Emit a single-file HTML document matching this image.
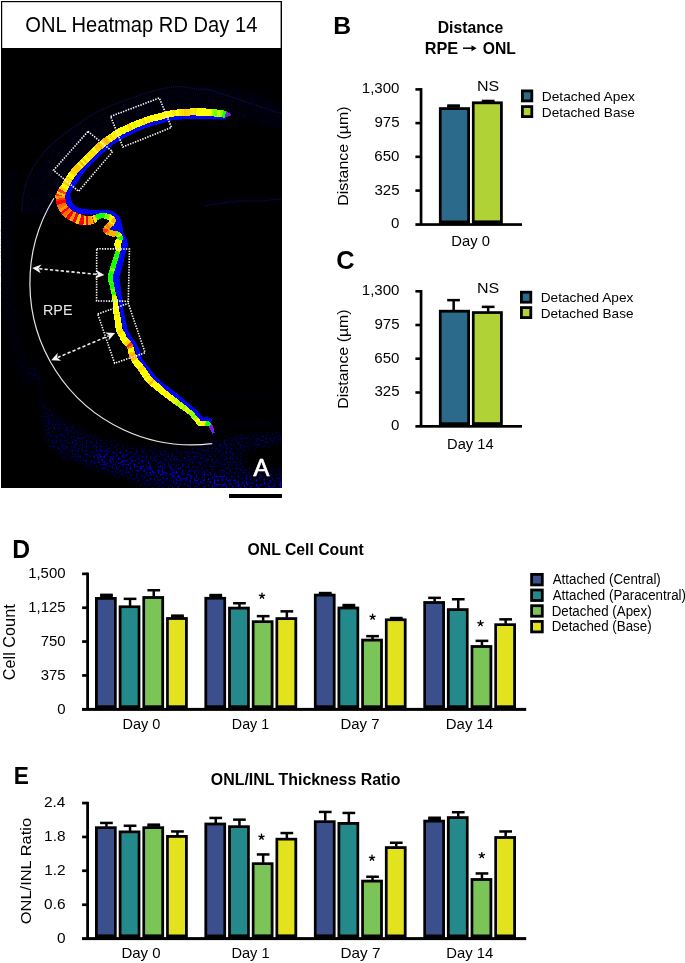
<!DOCTYPE html>
<html><head><meta charset="utf-8"><style>
html,body{margin:0;padding:0;background:#fff;width:685px;height:963px;overflow:hidden}
svg{display:block;font-family:"Liberation Sans",sans-serif;will-change:transform}
</style></head><body>
<svg width="685" height="963" viewBox="0 0 685 963">
<defs>
<filter id="speck" x="0" y="0" width="282" height="488" filterUnits="userSpaceOnUse" color-interpolation-filters="sRGB">
  <feTurbulence type="fractalNoise" baseFrequency="0.5" numOctaves="2" seed="5"/>
  <feColorMatrix type="matrix" values="0 0 0 0 0  0 0 0 0 0  2.6 0 0 0 -0.35  0 0 0 8 -3.9"/>
</filter>
<filter id="speck2" x="0" y="0" width="282" height="488" filterUnits="userSpaceOnUse" color-interpolation-filters="sRGB">
  <feTurbulence type="fractalNoise" baseFrequency="0.7" numOctaves="1" seed="11"/>
  <feColorMatrix type="matrix" values="0 0 0 0 0  0 0 0 0 0  1.0 0 0 0 -0.1  0 0 0 9 -4.4"/>
</filter>
<filter id="soft" x="-20%" y="-20%" width="140%" height="140%"><feGaussianBlur stdDeviation="3"/></filter>
<filter id="soft2" x="-20%" y="-20%" width="140%" height="140%"><feGaussianBlur stdDeviation="2"/></filter>
<mask id="tm" maskUnits="userSpaceOnUse" x="0" y="0" width="282" height="488">
  <g filter="url(#soft)">
  <path d="M25,368 L37,385 L47,405 L60,420 L82,432 L105,442 L131,447 L160,450 L190,450 L212,441 L240,436 L290,432 L290,500 L160,500 L136,483 L103,471 L66,458 L47,446 L44,420 L41,395 L38,368 Z" fill="#7a7a7a"/>
  <path d="M94,457 C120,461 150,469 180,476 S230,484 290,486" stroke="#fff" stroke-width="9" fill="none"/>
  <path d="M240,448 L290,440 L290,472 L245,470 Z" fill="#000"/>
  </g>
</mask>
<mask id="tm2" maskUnits="userSpaceOnUse" x="0" y="0" width="282" height="488">
  <g filter="url(#soft2)">
  <path d="M22,215 L25,195 L32,175 L50,150 L80,125 L120,105 L165,90 L200,86 L240,88 L262,95 L282,105 L282,130 L235,118 L229,112 L192,108.6 L160,113 L130,123.5 L110,134 L95,146 L85,156 L75,166 L66,178 L60,190 L55,200 L50,215 Z" fill="#5a5a5a"/>
  <path d="M12,170 C2,250 6,330 28,385" stroke="#444" stroke-width="13" fill="none"/>
  <path d="M200,203 C230,200 260,198 282,199" stroke="#888" stroke-width="3" fill="none"/>
  
  <path d="M170,442 C200,430 240,425 282,420" stroke="#666" stroke-width="4" fill="none"/>
  <path d="M200,395 C230,398 260,398 282,392" stroke="#555" stroke-width="3" fill="none"/>
  </g>
</mask>
</defs>
<rect x="1" y="1" width="281" height="487" fill="#000"/>
<rect x="2.2" y="2.2" width="278.4" height="45.8" fill="#fff"/>
<text transform="translate(25.29,32.00) scale(0.9462,1)" font-size="21.29" fill="#000">ONL Heatmap RD Day 14</text>
<rect x="1" y="48" width="281" height="440" fill="#fff" filter="url(#speck)" mask="url(#tm)"/>
<rect x="1" y="48" width="281" height="440" fill="#fff" filter="url(#speck2)" mask="url(#tm2)"/>
<path d="M22,212 C22,200 24,190 26,184 C29,176 31,170 34,166 C40,158 45,150 50,146 C58,139 64,134 70,130 C80,123 88,117 95,113 C105,108 114,104 124,101 C135,97 148,92 161,89 C170,87 178,86 185,87 C192,88 198,90 204,89 C212,89 216,92 222,94 C232,97 238,99 246,102 C256,105 264,108 282,114" fill="none" stroke="#101070" stroke-width="1.3" stroke-dasharray="1.2 0.9" opacity="0.75"/>
<path d="M205,206 C220,203 240,200 255,201 C265,201 275,199 282,199" fill="none" stroke="#101070" stroke-width="1.2" stroke-dasharray="1.2 0.9" opacity="0.7"/>
<polygon points="226.0,119.0 225.4,119.1 224.6,119.1 223.5,119.2 222.4,119.3 221.2,119.4 220.0,119.4 219.1,119.4 218.2,119.4 217.3,119.4 216.3,119.3 215.3,119.3 214.3,119.3 213.1,119.2 211.9,119.2 211.1,119.2 210.1,119.1 209.1,119.1 208.1,119.1 207.0,119.0 205.9,119.0 204.9,119.0 203.8,118.9 202.8,118.9 201.8,118.9 200.8,118.8 199.9,118.8 198.8,118.8 197.9,118.7 197.1,118.7 196.4,118.7 195.6,118.6 194.8,118.6 193.6,118.7 192.1,118.7 191.3,118.8 190.5,118.8 189.7,118.9 188.7,118.9 187.8,119.0 186.7,119.0 185.7,119.1 184.6,119.1 183.5,119.2 182.4,119.3 181.3,119.4 180.2,119.4 179.1,119.5 178.0,119.6 176.9,119.7 175.9,119.8 174.9,119.9 174.0,120.0 173.1,120.1 172.3,120.2 171.0,120.4 169.8,120.7 168.7,121.0 167.7,121.2 166.7,121.5 165.7,121.8 164.7,122.1 163.8,122.5 162.9,122.8 162.0,123.1 161.0,123.4 160.1,123.6 159.0,123.9 157.9,124.2 156.9,124.4 156.0,124.7 155.1,124.9 154.1,125.1 153.2,125.4 152.3,125.6 151.4,125.9 150.5,126.2 149.6,126.5 148.6,126.9 147.6,127.2 146.6,127.6 145.7,128.0 144.7,128.4 143.7,128.8 142.7,129.2 141.7,129.6 140.7,130.0 139.8,130.4 138.9,130.8 138.0,131.2 137.0,131.6 136.1,132.0 135.2,132.5 134.3,132.9 133.4,133.3 132.5,133.7 131.6,134.2 130.7,134.6 129.7,135.1 128.7,135.6 127.7,136.0 126.8,136.5 125.9,137.0 124.9,137.4 124.0,137.9 123.0,138.4 122.1,139.0 121.1,139.5 120.3,140.0 119.4,140.6 118.4,141.2 117.5,141.7 116.5,142.3 115.6,143.0 114.7,143.6 113.8,144.2 112.9,144.8 112.1,145.3 111.3,145.9 110.5,146.5 109.7,147.1 109.0,147.7 108.3,148.2 107.6,148.8 106.9,149.4 106.2,150.0 105.4,150.7 104.5,151.5 103.9,152.1 103.3,152.7 102.6,153.4 101.9,154.1 101.1,154.8 100.4,155.5 99.7,156.2 98.9,157.0 98.1,157.7 97.4,158.5 96.6,159.3 95.8,160.0 95.1,160.8 94.4,161.5 93.7,162.2 92.9,162.9 92.2,163.7 91.5,164.4 90.7,165.1 90.0,165.8 89.3,166.5 88.6,167.2 87.9,167.9 87.2,168.6 86.6,169.3 85.9,170.0 85.3,170.7 84.8,171.4 84.1,172.2 83.5,173.0 82.9,173.9 82.3,174.8 81.7,175.6 81.1,176.5 80.5,177.4 80.0,178.2 79.5,179.1 79.0,179.8 78.5,180.6 78.0,181.3 77.3,182.4 76.7,183.3 76.2,184.1 75.7,184.8 75.2,185.5 74.7,186.4 74.1,187.2 73.5,188.1 72.8,189.0 72.2,189.9 71.6,190.8 71.1,191.6 70.7,192.3 70.5,192.8 70.2,193.7 70.1,194.4 70.2,195.0 70.3,195.8 70.6,197.0 70.7,197.9 70.9,198.9 71.2,199.8 71.4,200.8 71.7,201.7 72.1,202.5 72.5,203.2 72.9,203.8 73.4,204.4 74.0,204.9 74.7,205.5 75.4,206.0 76.1,206.5 76.9,207.0 77.8,207.4 78.8,207.8 79.8,208.1 80.5,208.3 81.3,208.5 82.2,208.7 83.1,208.9 84.1,209.1 85.2,209.2 86.3,209.3 87.3,209.4 88.4,209.5 89.5,209.6 90.5,209.7 91.4,209.8 92.3,209.9 93.1,210.0 94.4,210.0 95.4,210.0 96.3,210.0 97.1,209.9 98.0,209.8 98.9,209.8 100.0,209.8 101.0,209.8 102.1,209.8 103.1,209.8 104.2,209.8 105.3,209.8 106.4,209.9 107.5,210.1 108.6,210.3 109.8,210.6 111.0,210.9 112.1,211.3 113.2,211.8 114.3,212.4 115.5,213.1 116.6,214.0 117.6,214.9 118.5,216.0 119.4,217.1 120.1,218.4 120.6,219.7 121.1,221.0 121.4,222.2 121.7,223.4 122.0,224.6 122.2,225.7 122.3,226.7 122.5,227.5 122.6,228.2 122.7,229.0 122.8,229.9 123.0,230.9 123.3,231.9 123.6,233.1 124.0,233.9 124.5,234.9 125.1,235.9 125.7,236.9 126.2,238.1 126.7,239.3 127.0,240.5 127.3,241.7 127.5,242.9 127.6,244.1 127.6,245.2 127.6,246.4 127.2,247.9 126.7,249.0 126.3,249.7 125.9,250.9 125.8,251.5 125.6,252.3 125.4,253.2 125.2,254.2 125.0,255.3 124.7,256.4 124.5,257.5 124.2,258.6 124.0,259.7 123.8,260.8 123.5,261.8 123.2,262.9 123.0,263.9 122.7,265.0 122.4,266.1 122.1,267.1 121.9,268.1 121.6,269.1 121.4,270.0 121.2,270.9 120.8,272.1 120.5,273.2 120.1,274.2 119.9,275.0 119.7,275.7 119.5,276.4 119.4,277.2 119.4,277.9 119.5,278.7 119.5,279.5 119.6,280.4 119.8,281.3 120.0,282.3 120.2,283.3 120.3,284.4 120.4,285.3 120.5,286.3 120.6,287.3 120.7,288.4 120.8,289.4 121.0,290.5 121.1,291.6 121.2,292.6 121.4,293.6 121.4,294.5 121.7,295.7 121.9,296.7 122.1,297.7 122.3,298.6 122.5,299.6 122.6,300.6 122.8,301.7 122.9,302.7 123.0,303.7 123.1,304.7 123.2,305.7 123.2,306.6 123.3,307.6 123.4,308.7 123.5,309.7 123.7,310.6 123.8,311.5 124.0,312.5 124.2,313.5 124.4,314.5 124.6,315.5 124.8,316.6 125.0,317.6 125.3,318.6 125.5,319.6 125.7,320.6 125.9,321.7 126.1,322.8 126.3,323.9 126.5,324.9 126.7,325.9 126.9,326.9 127.1,327.8 127.3,328.6 127.5,329.3 127.9,330.4 128.3,331.3 128.8,332.1 129.3,333.0 129.9,334.0 130.5,335.0 131.1,336.0 131.6,337.0 132.2,337.9 132.7,338.9 133.3,339.6 133.9,340.3 134.5,341.1 135.2,342.0 136.0,343.0 136.6,344.0 137.2,345.0 137.7,346.0 138.1,347.1 138.5,348.1 139.0,349.2 139.4,350.3 139.8,351.3 140.1,352.4 140.5,353.4 140.7,354.3 141.0,355.3 141.3,356.2 141.6,357.1 142.0,358.0 142.5,359.0 143.0,359.7 143.4,360.4 144.0,361.2 144.5,362.0 145.2,362.8 145.8,363.6 146.5,364.5 147.2,365.3 147.9,366.2 148.5,367.1 149.2,367.9 149.9,368.8 150.5,369.6 151.2,370.5 151.8,371.4 152.5,372.2 153.1,373.1 153.7,373.9 154.4,374.8 155.0,375.6 155.6,376.4 156.3,377.1 156.9,377.8 157.6,378.5 158.3,379.2 158.9,379.8 159.6,380.4 160.3,381.0 161.0,381.6 161.8,382.1 162.6,382.7 163.3,383.3 164.2,383.9 165.0,384.5 165.9,385.2 166.8,385.9 167.6,386.5 168.4,387.1 169.2,387.8 170.1,388.4 170.9,389.1 171.8,389.8 172.7,390.5 173.6,391.2 174.5,391.9 175.4,392.6 176.2,393.2 177.1,393.8 177.8,394.4 178.5,395.0 179.2,395.5 180.3,396.4 181.2,397.2 181.9,397.8 182.6,398.3 183.3,399.0 184.1,399.7 185.2,400.6 185.8,401.2 186.5,401.7 187.2,402.3 188.0,403.0 188.8,403.7 189.6,404.4 190.5,405.1 191.4,405.8 192.2,406.6 193.1,407.3 193.9,408.0 194.7,408.7 195.4,409.4 196.2,410.0 196.8,410.6 197.8,411.6 198.8,412.7 199.6,413.6 200.3,414.6 201.0,415.4 201.6,416.1 202.2,416.7 202.7,417.2 203.0,417.5 203.7,417.7 204.1,417.7 204.8,417.6 205.9,417.4 207.3,417.4 208.8,417.9 210.2,418.4 211.3,419.0 212.1,419.3 210.9,422.7 210.1,422.5 208.9,422.2 207.7,422.0 206.7,421.8 206.2,421.8 205.4,421.8 204.1,421.9 202.5,421.7 201.0,420.9 200.1,420.2 199.3,419.5 198.6,418.7 198.0,417.8 197.3,417.0 196.6,416.1 195.9,415.2 195.1,414.3 194.2,413.4 193.6,412.8 192.9,412.2 192.2,411.5 191.4,410.8 190.6,410.1 189.8,409.4 188.9,408.6 188.1,407.9 187.3,407.2 186.4,406.5 185.6,405.8 184.9,405.1 184.1,404.5 183.4,403.9 182.8,403.4 181.7,402.4 180.9,401.7 180.2,401.1 179.5,400.6 178.8,400.1 178.0,399.4 176.8,398.5 176.2,398.0 175.5,397.5 174.7,396.9 173.9,396.3 173.1,395.6 172.2,395.0 171.3,394.3 170.4,393.6 169.5,392.9 168.6,392.3 167.7,391.6 166.8,390.9 165.9,390.3 165.1,389.7 164.4,389.1 163.5,388.4 162.6,387.8 161.8,387.2 161.0,386.6 160.1,386.0 159.3,385.4 158.5,384.8 157.7,384.2 157.0,383.6 156.2,382.9 155.4,382.2 154.6,381.5 153.9,380.7 153.1,379.8 152.4,379.0 151.7,378.1 151.1,377.3 150.4,376.4 149.8,375.5 149.2,374.6 148.5,373.7 147.9,372.9 147.3,372.0 146.7,371.2 146.1,370.4 145.4,369.6 144.7,368.7 144.0,367.8 143.4,367.0 142.7,366.1 142.0,365.2 141.3,364.4 140.7,363.5 140.1,362.7 139.6,361.8 139.1,361.0 138.4,359.7 137.9,358.6 137.5,357.4 137.2,356.3 137.0,355.3 136.7,354.4 136.5,353.5 136.2,352.7 135.8,351.6 135.4,350.6 135.0,349.5 134.6,348.5 134.2,347.6 133.8,346.7 133.4,346.0 132.8,345.2 132.2,344.4 131.6,343.6 130.9,342.9 130.1,342.0 129.5,341.1 128.8,340.1 128.1,339.0 127.6,338.0 127.0,337.0 126.5,336.0 125.9,335.2 125.3,334.4 124.6,333.4 123.9,332.2 123.3,330.7 123.1,329.8 122.8,328.8 122.6,327.8 122.4,326.8 122.2,325.7 122.0,324.6 121.9,323.5 121.7,322.4 121.5,321.4 121.3,320.4 121.2,319.4 121.0,318.4 120.8,317.3 120.6,316.3 120.4,315.2 120.3,314.2 120.1,313.2 119.9,312.2 119.8,311.2 119.7,310.3 119.5,309.1 119.4,308.0 119.3,307.0 119.2,306.0 119.1,305.0 119.0,304.1 118.9,303.2 118.8,302.3 118.6,301.3 118.4,300.4 118.2,299.5 118.0,298.6 117.7,297.7 117.4,296.6 117.2,295.5 116.8,294.6 116.5,293.7 116.2,292.7 115.8,291.7 115.5,290.7 115.1,289.6 114.8,288.6 114.5,287.5 114.1,286.5 113.9,285.6 113.7,284.5 113.5,283.4 113.3,282.3 113.2,281.3 113.0,280.2 112.9,279.1 112.9,277.9 113.0,276.8 113.1,275.5 113.3,274.3 113.6,273.2 113.9,272.2 114.2,271.2 114.5,270.2 114.8,269.1 115.1,268.2 115.4,267.3 115.7,266.3 116.0,265.3 116.3,264.3 116.6,263.3 116.9,262.2 117.3,261.2 117.6,260.2 117.8,259.2 118.1,258.2 118.4,257.2 118.7,256.1 118.9,255.0 119.2,254.0 119.5,252.9 119.7,251.9 120.0,250.9 120.2,250.0 120.5,249.1 121.0,247.5 121.6,246.5 121.7,246.1 121.8,245.6 121.9,245.0 122.0,244.2 122.0,243.3 121.9,242.4 121.8,241.5 121.7,240.7 121.5,239.9 121.2,239.0 120.8,238.0 120.3,237.0 119.9,235.9 119.4,234.9 118.8,233.9 118.2,233.0 117.5,232.0 116.9,231.0 116.4,229.8 116.1,228.5 116.0,227.3 116.0,226.3 116.0,225.5 115.9,224.6 115.7,223.6 115.5,222.5 115.2,221.5 115.0,220.6 114.6,219.9 114.2,219.2 113.7,218.5 113.1,217.8 112.4,217.2 111.7,216.6 111.0,216.2 110.2,215.8 109.4,215.4 108.5,215.1 107.5,214.8 106.5,214.5 105.7,214.3 104.8,214.2 103.9,214.1 103.0,214.0 102.0,213.9 101.0,213.8 100.0,213.8 99.2,213.9 98.4,214.0 97.6,214.1 96.7,214.2 95.6,214.4 94.4,214.4 92.9,214.4 92.1,214.5 91.2,214.5 90.3,214.5 89.2,214.4 88.1,214.4 87.0,214.4 85.9,214.4 84.7,214.3 83.6,214.3 82.4,214.2 81.3,214.0 80.2,213.9 79.2,213.7 78.2,213.5 76.8,213.0 75.5,212.5 74.3,211.9 73.2,211.2 72.2,210.5 71.2,209.7 70.3,208.9 69.5,208.1 68.7,207.2 67.9,206.0 67.2,204.8 66.7,203.5 66.3,202.3 66.0,201.1 65.8,199.9 65.6,198.9 65.4,198.0 65.2,196.7 65.1,195.4 65.1,194.0 65.3,192.6 65.7,191.2 66.2,190.1 66.8,189.0 67.4,188.0 68.1,187.0 68.8,186.1 69.4,185.2 70.0,184.3 70.5,183.6 71.2,182.7 71.8,181.9 72.3,181.3 72.9,180.6 73.6,179.8 74.4,178.7 74.8,178.1 75.3,177.4 75.8,176.6 76.3,175.8 76.8,175.0 77.4,174.1 78.0,173.2 78.7,172.3 79.3,171.4 80.0,170.4 80.7,169.5 81.4,168.6 82.1,167.9 82.8,167.1 83.4,166.4 84.1,165.7 84.8,164.9 85.6,164.2 86.3,163.5 87.0,162.8 87.8,162.1 88.5,161.3 89.2,160.6 90.0,159.9 90.7,159.2 91.4,158.5 92.1,157.8 92.9,157.1 93.6,156.3 94.4,155.5 95.2,154.8 95.9,154.0 96.7,153.2 97.5,152.5 98.2,151.8 98.9,151.0 99.7,150.3 100.4,149.7 101.0,149.1 101.7,148.5 102.6,147.6 103.4,146.9 104.2,146.2 104.9,145.6 105.6,145.0 106.4,144.4 107.1,143.8 108.0,143.2 108.9,142.5 109.7,141.9 110.5,141.3 111.4,140.7 112.4,140.1 113.3,139.4 114.3,138.8 115.2,138.2 116.2,137.6 117.2,137.0 118.1,136.4 119.1,135.9 120.1,135.3 121.1,134.8 122.1,134.3 123.1,133.8 124.0,133.3 125.0,132.8 126.0,132.4 127.0,131.9 127.9,131.5 128.9,131.0 129.8,130.6 130.8,130.1 131.7,129.7 132.6,129.3 133.5,128.8 134.5,128.4 135.4,128.0 136.3,127.6 137.3,127.2 138.2,126.8 139.1,126.4 140.1,125.9 141.1,125.5 142.2,125.1 143.2,124.7 144.2,124.3 145.2,123.9 146.2,123.5 147.2,123.1 148.3,122.7 149.3,122.4 150.3,122.1 151.3,121.8 152.2,121.6 153.2,121.3 154.1,121.1 155.1,120.9 156.1,120.7 157.0,120.5 158.1,120.2 159.1,120.0 160.0,119.7 160.9,119.5 161.8,119.2 162.7,118.9 163.6,118.6 164.6,118.3 165.7,118.0 166.7,117.8 167.9,117.5 169.1,117.2 170.4,117.0 171.7,116.8 172.6,116.6 173.5,116.5 174.5,116.4 175.5,116.3 176.6,116.2 177.7,116.1 178.8,116.0 179.9,115.9 181.0,115.9 182.2,115.8 183.3,115.7 184.4,115.6 185.5,115.6 186.5,115.5 187.6,115.5 188.6,115.4 189.5,115.4 190.4,115.3 191.2,115.3 191.9,115.3 193.5,115.2 194.7,115.2 195.8,115.2 196.6,115.3 197.4,115.4 198.1,115.5 199.0,115.5 200.1,115.6 200.9,115.6 201.9,115.7 202.9,115.7 203.9,115.7 205.0,115.8 206.1,115.8 207.1,115.8 208.2,115.9 209.2,115.9 210.2,115.9 211.2,116.0 212.1,116.0 213.3,116.1 214.4,116.1 215.4,116.2 216.4,116.2 217.4,116.3 218.3,116.3 219.2,116.4 220.0,116.4 221.2,116.5 222.3,116.5 223.5,116.5 224.5,116.5 225.3,116.6 226.0,116.6" fill="#0000f0"/>
<g shape-rendering="crispEdges">
<polygon points="226.0,119.0 226.0,116.6 225.3,116.6 225.4,119.1" fill="#0007fa"/>
<polygon points="225.4,119.1 225.3,116.6 224.5,116.5 224.6,119.1" fill="#0008fd"/>
<polygon points="224.6,119.1 224.5,116.5 223.5,116.5 223.5,119.2" fill="#0006f5"/>
<polygon points="223.5,119.2 223.5,116.5 222.3,116.5 222.4,119.3" fill="#0008fe"/>
<polygon points="222.4,119.3 222.3,116.5 221.2,116.5 221.2,119.4" fill="#0006f6"/>
<polygon points="221.2,119.4 221.2,116.5 220.0,116.4 220.0,119.4" fill="#0007f9"/>
<polygon points="220.0,119.4 220.0,116.4 219.2,116.4 219.1,119.4" fill="#0008fe"/>
<polygon points="219.1,119.4 219.2,116.4 218.3,116.3 218.2,119.4" fill="#0006f7"/>
<polygon points="218.2,119.4 218.3,116.3 217.4,116.3 217.3,119.4" fill="#0008fe"/>
<polygon points="217.3,119.4 217.4,116.3 216.4,116.2 216.3,119.3" fill="#0007f8"/>
<polygon points="216.3,119.3 216.4,116.2 215.4,116.2 215.3,119.3" fill="#0008fe"/>
<polygon points="215.3,119.3 215.4,116.2 214.4,116.1 214.3,119.3" fill="#0008fe"/>
<polygon points="214.3,119.3 214.4,116.1 213.3,116.1 213.1,119.2" fill="#0007f8"/>
<polygon points="213.1,119.2 213.3,116.1 212.1,116.0 211.9,119.2" fill="#0005f2"/>
<polygon points="211.9,119.2 212.1,116.0 211.2,116.0 211.1,119.2" fill="#0008fd"/>
<polygon points="211.1,119.2 211.2,116.0 210.2,115.9 210.1,119.1" fill="#0007fb"/>
<polygon points="210.1,119.1 210.2,115.9 209.2,115.9 209.1,119.1" fill="#0006f5"/>
<polygon points="209.1,119.1 209.2,115.9 208.2,115.9 208.1,119.1" fill="#0005f0"/>
<polygon points="208.1,119.1 208.2,115.9 207.1,115.8 207.0,119.0" fill="#0006f6"/>
<polygon points="207.0,119.0 207.1,115.8 206.1,115.8 205.9,119.0" fill="#0007f9"/>
<polygon points="205.9,119.0 206.1,115.8 205.0,115.8 204.9,119.0" fill="#0005ef"/>
<polygon points="204.9,119.0 205.0,115.8 203.9,115.7 203.8,118.9" fill="#0008fe"/>
<polygon points="203.8,118.9 203.9,115.7 202.9,115.7 202.8,118.9" fill="#0005f1"/>
<polygon points="202.8,118.9 202.9,115.7 201.9,115.7 201.8,118.9" fill="#0007fa"/>
<polygon points="201.8,118.9 201.9,115.7 200.9,115.6 200.8,118.8" fill="#0008fd"/>
<polygon points="200.8,118.8 200.9,115.6 200.1,115.6 199.9,118.8" fill="#0008fd"/>
<polygon points="199.9,118.8 200.1,115.6 199.0,115.5 198.8,118.8" fill="#0007fa"/>
<polygon points="198.8,118.8 199.0,115.5 198.1,115.5 197.9,118.7" fill="#0005f2"/>
<polygon points="197.9,118.7 198.1,115.5 197.4,115.4 197.1,118.7" fill="#0007fc"/>
<polygon points="197.1,118.7 197.4,115.4 196.6,115.3 196.4,118.7" fill="#0006f6"/>
<polygon points="196.4,118.7 196.6,115.3 195.8,115.2 195.6,118.6" fill="#0006f5"/>
<polygon points="195.6,118.6 195.8,115.2 194.7,115.2 194.8,118.6" fill="#0007f9"/>
<polygon points="194.8,118.6 194.7,115.2 193.5,115.2 193.6,118.7" fill="#0006f6"/>
<polygon points="193.6,118.7 193.5,115.2 191.9,115.3 192.1,118.7" fill="#0008fe"/>
<polygon points="192.1,118.7 191.9,115.3 191.2,115.3 191.3,118.8" fill="#0008fe"/>
<polygon points="191.3,118.8 191.2,115.3 190.4,115.3 190.5,118.8" fill="#0007fc"/>
<polygon points="190.5,118.8 190.4,115.3 189.5,115.4 189.7,118.9" fill="#0006f4"/>
<polygon points="189.7,118.9 189.5,115.4 188.6,115.4 188.7,118.9" fill="#0007f8"/>
<polygon points="188.7,118.9 188.6,115.4 187.6,115.5 187.8,119.0" fill="#0007fa"/>
<polygon points="187.8,119.0 187.6,115.5 186.5,115.5 186.7,119.0" fill="#0006f6"/>
<polygon points="186.7,119.0 186.5,115.5 185.5,115.6 185.7,119.1" fill="#0007f8"/>
<polygon points="185.7,119.1 185.5,115.6 184.4,115.6 184.6,119.1" fill="#0007fa"/>
<polygon points="184.6,119.1 184.4,115.6 183.3,115.7 183.5,119.2" fill="#0005f2"/>
<polygon points="183.5,119.2 183.3,115.7 182.2,115.8 182.4,119.3" fill="#0006f4"/>
<polygon points="182.4,119.3 182.2,115.8 181.0,115.9 181.3,119.4" fill="#0007fb"/>
<polygon points="181.3,119.4 181.0,115.9 179.9,115.9 180.2,119.4" fill="#0006f6"/>
<polygon points="180.2,119.4 179.9,115.9 178.8,116.0 179.1,119.5" fill="#0006f7"/>
<polygon points="179.1,119.5 178.8,116.0 177.7,116.1 178.0,119.6" fill="#0005f1"/>
<polygon points="178.0,119.6 177.7,116.1 176.6,116.2 176.9,119.7" fill="#0006f3"/>
<polygon points="176.9,119.7 176.6,116.2 175.5,116.3 175.9,119.8" fill="#0007fa"/>
<polygon points="175.9,119.8 175.5,116.3 174.5,116.4 174.9,119.9" fill="#0005ef"/>
<polygon points="174.9,119.9 174.5,116.4 173.5,116.5 174.0,120.0" fill="#0008fd"/>
<polygon points="174.0,120.0 173.5,116.5 172.6,116.6 173.1,120.1" fill="#0007f8"/>
<polygon points="173.1,120.1 172.6,116.6 171.7,116.8 172.3,120.2" fill="#0006f3"/>
<polygon points="172.3,120.2 171.7,116.8 170.4,117.0 171.0,120.4" fill="#0008fd"/>
<polygon points="171.0,120.4 170.4,117.0 169.1,117.2 169.8,120.7" fill="#0006f7"/>
<polygon points="169.8,120.7 169.1,117.2 167.9,117.5 168.7,121.0" fill="#0008fe"/>
<polygon points="168.7,121.0 167.9,117.5 166.7,117.8 167.7,121.2" fill="#0006f4"/>
<polygon points="167.7,121.2 166.7,117.8 165.7,118.0 166.7,121.5" fill="#0006f3"/>
<polygon points="166.7,121.5 165.7,118.0 164.6,118.3 165.7,121.8" fill="#0006f6"/>
<polygon points="165.7,121.8 164.6,118.3 163.6,118.6 164.7,122.1" fill="#0005f1"/>
<polygon points="164.7,122.1 163.6,118.6 162.7,118.9 163.8,122.5" fill="#0007fa"/>
<polygon points="163.8,122.5 162.7,118.9 161.8,119.2 162.9,122.8" fill="#0006f4"/>
<polygon points="162.9,122.8 161.8,119.2 160.9,119.5 162.0,123.1" fill="#0006f5"/>
<polygon points="162.0,123.1 160.9,119.5 160.0,119.7 161.0,123.4" fill="#0006f6"/>
<polygon points="161.0,123.4 160.0,119.7 159.1,120.0 160.1,123.6" fill="#0007f8"/>
<polygon points="160.1,123.6 159.1,120.0 158.1,120.2 159.0,123.9" fill="#0005f2"/>
<polygon points="159.0,123.9 158.1,120.2 157.0,120.5 157.9,124.2" fill="#0005f0"/>
<polygon points="157.9,124.2 157.0,120.5 156.1,120.7 156.9,124.4" fill="#0006f7"/>
<polygon points="156.9,124.4 156.1,120.7 155.1,120.9 156.0,124.7" fill="#0006f4"/>
<polygon points="156.0,124.7 155.1,120.9 154.1,121.1 155.1,124.9" fill="#0008fe"/>
<polygon points="155.1,124.9 154.1,121.1 153.2,121.3 154.1,125.1" fill="#0006f4"/>
<polygon points="154.1,125.1 153.2,121.3 152.2,121.6 153.2,125.4" fill="#0006f5"/>
<polygon points="153.2,125.4 152.2,121.6 151.3,121.8 152.3,125.6" fill="#0005ef"/>
<polygon points="152.3,125.6 151.3,121.8 150.3,122.1 151.4,125.9" fill="#0005f2"/>
<polygon points="151.4,125.9 150.3,122.1 149.3,122.4 150.5,126.2" fill="#0007fa"/>
<polygon points="150.5,126.2 149.3,122.4 148.3,122.7 149.6,126.5" fill="#0007f9"/>
<polygon points="149.6,126.5 148.3,122.7 147.2,123.1 148.6,126.9" fill="#0006f4"/>
<polygon points="148.6,126.9 147.2,123.1 146.2,123.5 147.6,127.2" fill="#0008ff"/>
<polygon points="147.6,127.2 146.2,123.5 145.2,123.9 146.6,127.6" fill="#0007f8"/>
<polygon points="146.6,127.6 145.2,123.9 144.2,124.3 145.7,128.0" fill="#0007fc"/>
<polygon points="145.7,128.0 144.2,124.3 143.2,124.7 144.7,128.4" fill="#0008fd"/>
<polygon points="144.7,128.4 143.2,124.7 142.2,125.1 143.7,128.8" fill="#0008fe"/>
<polygon points="143.7,128.8 142.2,125.1 141.1,125.5 142.7,129.2" fill="#0006f3"/>
<polygon points="142.7,129.2 141.1,125.5 140.1,125.9 141.7,129.6" fill="#0008fd"/>
<polygon points="141.7,129.6 140.1,125.9 139.1,126.4 140.7,130.0" fill="#0007fb"/>
<polygon points="140.7,130.0 139.1,126.4 138.2,126.8 139.8,130.4" fill="#0007f9"/>
<polygon points="139.8,130.4 138.2,126.8 137.3,127.2 138.9,130.8" fill="#0005f1"/>
<polygon points="138.9,130.8 137.3,127.2 136.3,127.6 138.0,131.2" fill="#0008fe"/>
<polygon points="138.0,131.2 136.3,127.6 135.4,128.0 137.0,131.6" fill="#0007f8"/>
<polygon points="137.0,131.6 135.4,128.0 134.5,128.4 136.1,132.0" fill="#0006f6"/>
<polygon points="136.1,132.0 134.5,128.4 133.5,128.8 135.2,132.5" fill="#0005f1"/>
<polygon points="135.2,132.5 133.5,128.8 132.6,129.3 134.3,132.9" fill="#0005f2"/>
<polygon points="134.3,132.9 132.6,129.3 131.7,129.7 133.4,133.3" fill="#0005f1"/>
<polygon points="133.4,133.3 131.7,129.7 130.8,130.1 132.5,133.7" fill="#0007fb"/>
<polygon points="132.5,133.7 130.8,130.1 129.8,130.6 131.6,134.2" fill="#0007f8"/>
<polygon points="131.6,134.2 129.8,130.6 128.9,131.0 130.7,134.6" fill="#0007f9"/>
<polygon points="130.7,134.6 128.9,131.0 127.9,131.5 129.7,135.1" fill="#0005f1"/>
<polygon points="129.7,135.1 127.9,131.5 127.0,131.9 128.7,135.6" fill="#0005f0"/>
<polygon points="128.7,135.6 127.0,131.9 126.0,132.4 127.7,136.0" fill="#0008fd"/>
<polygon points="127.7,136.0 126.0,132.4 125.0,132.8 126.8,136.5" fill="#0007fc"/>
<polygon points="126.8,136.5 125.0,132.8 124.0,133.3 125.9,137.0" fill="#0007fb"/>
<polygon points="125.9,137.0 124.0,133.3 123.1,133.8 124.9,137.4" fill="#0007fb"/>
<polygon points="124.9,137.4 123.1,133.8 122.1,134.3 124.0,137.9" fill="#0006f7"/>
<polygon points="124.0,137.9 122.1,134.3 121.1,134.8 123.0,138.4" fill="#0006f6"/>
<polygon points="123.0,138.4 121.1,134.8 120.1,135.3 122.1,139.0" fill="#0007fb"/>
<polygon points="122.1,139.0 120.1,135.3 119.1,135.9 121.1,139.5" fill="#0008ff"/>
<polygon points="121.1,139.5 119.1,135.9 118.1,136.4 120.3,140.0" fill="#0007f8"/>
<polygon points="120.3,140.0 118.1,136.4 117.2,137.0 119.4,140.6" fill="#0007f9"/>
<polygon points="119.4,140.6 117.2,137.0 116.2,137.6 118.4,141.2" fill="#0006f6"/>
<polygon points="118.4,141.2 116.2,137.6 115.2,138.2 117.5,141.7" fill="#0005f0"/>
<polygon points="117.5,141.7 115.2,138.2 114.3,138.8 116.5,142.3" fill="#0006f4"/>
<polygon points="116.5,142.3 114.3,138.8 113.3,139.4 115.6,143.0" fill="#0006f7"/>
<polygon points="115.6,143.0 113.3,139.4 112.4,140.1 114.7,143.6" fill="#0006f5"/>
<polygon points="114.7,143.6 112.4,140.1 111.4,140.7 113.8,144.2" fill="#0006f4"/>
<polygon points="113.8,144.2 111.4,140.7 110.5,141.3 112.9,144.8" fill="#0008fe"/>
<polygon points="112.9,144.8 110.5,141.3 109.7,141.9 112.1,145.3" fill="#0005f1"/>
<polygon points="112.1,145.3 109.7,141.9 108.9,142.5 111.3,145.9" fill="#0006f3"/>
<polygon points="111.3,145.9 108.9,142.5 108.0,143.2 110.5,146.5" fill="#0005f1"/>
<polygon points="110.5,146.5 108.0,143.2 107.1,143.8 109.7,147.1" fill="#0005f2"/>
<polygon points="109.7,147.1 107.1,143.8 106.4,144.4 109.0,147.7" fill="#0007f9"/>
<polygon points="109.0,147.7 106.4,144.4 105.6,145.0 108.3,148.2" fill="#0007f9"/>
<polygon points="108.3,148.2 105.6,145.0 104.9,145.6 107.6,148.8" fill="#0008fd"/>
<polygon points="107.6,148.8 104.9,145.6 104.2,146.2 106.9,149.4" fill="#0006f5"/>
<polygon points="106.9,149.4 104.2,146.2 103.4,146.9 106.2,150.0" fill="#0008fe"/>
<polygon points="106.2,150.0 103.4,146.9 102.6,147.6 105.4,150.7" fill="#0008fe"/>
<polygon points="105.4,150.7 102.6,147.6 101.7,148.5 104.5,151.5" fill="#0007fc"/>
<polygon points="104.5,151.5 101.7,148.5 101.0,149.1 103.9,152.1" fill="#0007fc"/>
<polygon points="103.9,152.1 101.0,149.1 100.4,149.7 103.3,152.7" fill="#0007fa"/>
<polygon points="103.3,152.7 100.4,149.7 99.7,150.3 102.6,153.4" fill="#0008fe"/>
<polygon points="102.6,153.4 99.7,150.3 98.9,151.0 101.9,154.1" fill="#0008ff"/>
<polygon points="101.9,154.1 98.9,151.0 98.2,151.8 101.1,154.8" fill="#0008fd"/>
<polygon points="101.1,154.8 98.2,151.8 97.5,152.5 100.4,155.5" fill="#0008fd"/>
<polygon points="100.4,155.5 97.5,152.5 96.7,153.2 99.7,156.2" fill="#0007f9"/>
<polygon points="99.7,156.2 96.7,153.2 95.9,154.0 98.9,157.0" fill="#0008ff"/>
<polygon points="98.9,157.0 95.9,154.0 95.2,154.8 98.1,157.7" fill="#0005f1"/>
<polygon points="98.1,157.7 95.2,154.8 94.4,155.5 97.4,158.5" fill="#0006f5"/>
<polygon points="97.4,158.5 94.4,155.5 93.6,156.3 96.6,159.3" fill="#0008fd"/>
<polygon points="96.6,159.3 93.6,156.3 92.9,157.1 95.8,160.0" fill="#0007fb"/>
<polygon points="95.8,160.0 92.9,157.1 92.1,157.8 95.1,160.8" fill="#0007f9"/>
<polygon points="95.1,160.8 92.1,157.8 91.4,158.5 94.4,161.5" fill="#0007f9"/>
<polygon points="94.4,161.5 91.4,158.5 90.7,159.2 93.7,162.2" fill="#0008fd"/>
<polygon points="93.7,162.2 90.7,159.2 90.0,159.9 92.9,162.9" fill="#0005f1"/>
<polygon points="92.9,162.9 90.0,159.9 89.2,160.6 92.2,163.7" fill="#0005ef"/>
<polygon points="92.2,163.7 89.2,160.6 88.5,161.3 91.5,164.4" fill="#0007f8"/>
<polygon points="91.5,164.4 88.5,161.3 87.8,162.1 90.7,165.1" fill="#0006f7"/>
<polygon points="90.7,165.1 87.8,162.1 87.0,162.8 90.0,165.8" fill="#0008fe"/>
<polygon points="90.0,165.8 87.0,162.8 86.3,163.5 89.3,166.5" fill="#0008fd"/>
<polygon points="89.3,166.5 86.3,163.5 85.6,164.2 88.6,167.2" fill="#0007fa"/>
<polygon points="88.6,167.2 85.6,164.2 84.8,164.9 87.9,167.9" fill="#0007fb"/>
<polygon points="87.9,167.9 84.8,164.9 84.1,165.7 87.2,168.6" fill="#0005f2"/>
<polygon points="87.2,168.6 84.1,165.7 83.4,166.4 86.6,169.3" fill="#0007fc"/>
<polygon points="86.6,169.3 83.4,166.4 82.8,167.1 85.9,170.0" fill="#0008ff"/>
<polygon points="85.9,170.0 82.8,167.1 82.1,167.9 85.3,170.7" fill="#0005f0"/>
<polygon points="85.3,170.7 82.1,167.9 81.4,168.6 84.8,171.4" fill="#0006f7"/>
<polygon points="84.8,171.4 81.4,168.6 80.7,169.5 84.1,172.2" fill="#0008fd"/>
<polygon points="84.1,172.2 80.7,169.5 80.0,170.4 83.5,173.0" fill="#0006f6"/>
<polygon points="83.5,173.0 80.0,170.4 79.3,171.4 82.9,173.9" fill="#0008ff"/>
<polygon points="82.9,173.9 79.3,171.4 78.7,172.3 82.3,174.8" fill="#0006f7"/>
<polygon points="82.3,174.8 78.7,172.3 78.0,173.2 81.7,175.6" fill="#0005ef"/>
<polygon points="81.7,175.6 78.0,173.2 77.4,174.1 81.1,176.5" fill="#0005f1"/>
<polygon points="81.1,176.5 77.4,174.1 76.8,175.0 80.5,177.4" fill="#0006f4"/>
<polygon points="80.5,177.4 76.8,175.0 76.3,175.8 80.0,178.2" fill="#0007fb"/>
<polygon points="80.0,178.2 76.3,175.8 75.8,176.6 79.5,179.1" fill="#0007f9"/>
<polygon points="79.5,179.1 75.8,176.6 75.3,177.4 79.0,179.8" fill="#0007fc"/>
<polygon points="79.0,179.8 75.3,177.4 74.8,178.1 78.5,180.6" fill="#0006f3"/>
<polygon points="78.5,180.6 74.8,178.1 74.4,178.7 78.0,181.3" fill="#0006f6"/>
<polygon points="78.0,181.3 74.4,178.7 73.6,179.8 77.3,182.4" fill="#0006f3"/>
<polygon points="77.3,182.4 73.6,179.8 72.9,180.6 76.7,183.3" fill="#0007fa"/>
<polygon points="76.7,183.3 72.9,180.6 72.3,181.3 76.2,184.1" fill="#0007fb"/>
<polygon points="76.2,184.1 72.3,181.3 71.8,181.9 75.7,184.8" fill="#0005f2"/>
<polygon points="75.7,184.8 71.8,181.9 71.2,182.7 75.2,185.5" fill="#0005ef"/>
<polygon points="75.2,185.5 71.2,182.7 70.5,183.6 74.7,186.4" fill="#0005f1"/>
<polygon points="74.7,186.4 70.5,183.6 70.0,184.3 74.1,187.2" fill="#0005f2"/>
<polygon points="74.1,187.2 70.0,184.3 69.4,185.2 73.5,188.1" fill="#0005f2"/>
<polygon points="73.5,188.1 69.4,185.2 68.8,186.1 72.8,189.0" fill="#0006f3"/>
<polygon points="72.8,189.0 68.8,186.1 68.1,187.0 72.2,189.9" fill="#0007fb"/>
<polygon points="72.2,189.9 68.1,187.0 67.4,188.0 71.6,190.8" fill="#0006f7"/>
<polygon points="71.6,190.8 67.4,188.0 66.8,189.0 71.1,191.6" fill="#0007f9"/>
<polygon points="71.1,191.6 66.8,189.0 66.2,190.1 70.7,192.3" fill="#0008ff"/>
<polygon points="70.7,192.3 66.2,190.1 65.7,191.2 70.5,192.8" fill="#0008ff"/>
<polygon points="70.5,192.8 65.7,191.2 65.3,192.6 70.2,193.7" fill="#0007fb"/>
<polygon points="70.2,193.7 65.3,192.6 65.1,194.0 70.1,194.4" fill="#0007fb"/>
<polygon points="70.1,194.4 65.1,194.0 65.1,195.4 70.2,195.0" fill="#0006f4"/>
<polygon points="70.2,195.0 65.1,195.4 65.2,196.7 70.3,195.8" fill="#0005f0"/>
<polygon points="70.3,195.8 65.2,196.7 65.4,198.0 70.6,197.0" fill="#0007f8"/>
<polygon points="70.6,197.0 65.4,198.0 65.6,198.9 70.7,197.9" fill="#0005f0"/>
<polygon points="70.7,197.9 65.6,198.9 65.8,199.9 70.9,198.9" fill="#0005ef"/>
<polygon points="70.9,198.9 65.8,199.9 66.0,201.1 71.2,199.8" fill="#0005f0"/>
<polygon points="71.2,199.8 66.0,201.1 66.3,202.3 71.4,200.8" fill="#0007f9"/>
<polygon points="71.4,200.8 66.3,202.3 66.7,203.5 71.7,201.7" fill="#0007fb"/>
<polygon points="71.7,201.7 66.7,203.5 67.2,204.8 72.1,202.5" fill="#0007fb"/>
<polygon points="72.1,202.5 67.2,204.8 67.9,206.0 72.5,203.2" fill="#0007fc"/>
<polygon points="72.5,203.2 67.9,206.0 68.7,207.2 72.9,203.8" fill="#0007fc"/>
<polygon points="72.9,203.8 68.7,207.2 69.5,208.1 73.4,204.4" fill="#0006f5"/>
<polygon points="73.4,204.4 69.5,208.1 70.3,208.9 74.0,204.9" fill="#0005f1"/>
<polygon points="74.0,204.9 70.3,208.9 71.2,209.7 74.7,205.5" fill="#0005f2"/>
<polygon points="74.7,205.5 71.2,209.7 72.2,210.5 75.4,206.0" fill="#0006f7"/>
<polygon points="75.4,206.0 72.2,210.5 73.2,211.2 76.1,206.5" fill="#0006f5"/>
<polygon points="76.1,206.5 73.2,211.2 74.3,211.9 76.9,207.0" fill="#0005f2"/>
<polygon points="76.9,207.0 74.3,211.9 75.5,212.5 77.8,207.4" fill="#0008fe"/>
<polygon points="77.8,207.4 75.5,212.5 76.8,213.0 78.8,207.8" fill="#0006f4"/>
<polygon points="78.8,207.8 76.8,213.0 78.2,213.5 79.8,208.1" fill="#0005f0"/>
<polygon points="79.8,208.1 78.2,213.5 79.2,213.7 80.5,208.3" fill="#0005f2"/>
<polygon points="80.5,208.3 79.2,213.7 80.2,213.9 81.3,208.5" fill="#0006f3"/>
<polygon points="81.3,208.5 80.2,213.9 81.3,214.0 82.2,208.7" fill="#0006f7"/>
<polygon points="82.2,208.7 81.3,214.0 82.4,214.2 83.1,208.9" fill="#0007fc"/>
<polygon points="83.1,208.9 82.4,214.2 83.6,214.3 84.1,209.1" fill="#0005f2"/>
<polygon points="84.1,209.1 83.6,214.3 84.7,214.3 85.2,209.2" fill="#0007fa"/>
<polygon points="85.2,209.2 84.7,214.3 85.9,214.4 86.3,209.3" fill="#0005f2"/>
<polygon points="86.3,209.3 85.9,214.4 87.0,214.4 87.3,209.4" fill="#0005ef"/>
<polygon points="87.3,209.4 87.0,214.4 88.1,214.4 88.4,209.5" fill="#0007f9"/>
<polygon points="88.4,209.5 88.1,214.4 89.2,214.4 89.5,209.6" fill="#0007f9"/>
<polygon points="89.5,209.6 89.2,214.4 90.3,214.5 90.5,209.7" fill="#0005f0"/>
<polygon points="90.5,209.7 90.3,214.5 91.2,214.5 91.4,209.8" fill="#0006f3"/>
<polygon points="91.4,209.8 91.2,214.5 92.1,214.5 92.3,209.9" fill="#0007fc"/>
<polygon points="92.3,209.9 92.1,214.5 92.9,214.4 93.1,210.0" fill="#0008fd"/>
<polygon points="93.1,210.0 92.9,214.4 94.4,214.4 94.4,210.0" fill="#0008fd"/>
<polygon points="94.4,210.0 94.4,214.4 95.6,214.4 95.4,210.0" fill="#0005f1"/>
<polygon points="95.4,210.0 95.6,214.4 96.7,214.2 96.3,210.0" fill="#0005f2"/>
<polygon points="96.3,210.0 96.7,214.2 97.6,214.1 97.1,209.9" fill="#0008fd"/>
<polygon points="97.1,209.9 97.6,214.1 98.4,214.0 98.0,209.8" fill="#0005f2"/>
<polygon points="98.0,209.8 98.4,214.0 99.2,213.9 98.9,209.8" fill="#0005ef"/>
<polygon points="98.9,209.8 99.2,213.9 100.0,213.8 100.0,209.8" fill="#0006f4"/>
<polygon points="100.0,209.8 100.0,213.8 101.0,213.8 101.0,209.8" fill="#0007f9"/>
<polygon points="101.0,209.8 101.0,213.8 102.0,213.9 102.1,209.8" fill="#0006f6"/>
<polygon points="102.1,209.8 102.0,213.9 103.0,214.0 103.1,209.8" fill="#0008fd"/>
<polygon points="103.1,209.8 103.0,214.0 103.9,214.1 104.2,209.8" fill="#0008ff"/>
<polygon points="104.2,209.8 103.9,214.1 104.8,214.2 105.3,209.8" fill="#0005ef"/>
<polygon points="105.3,209.8 104.8,214.2 105.7,214.3 106.4,209.9" fill="#0006f5"/>
<polygon points="106.4,209.9 105.7,214.3 106.5,214.5 107.5,210.1" fill="#0006f7"/>
<polygon points="107.5,210.1 106.5,214.5 107.5,214.8 108.6,210.3" fill="#0005f0"/>
<polygon points="108.6,210.3 107.5,214.8 108.5,215.1 109.8,210.6" fill="#0007f8"/>
<polygon points="109.8,210.6 108.5,215.1 109.4,215.4 111.0,210.9" fill="#0005f1"/>
<polygon points="111.0,210.9 109.4,215.4 110.2,215.8 112.1,211.3" fill="#0005f2"/>
<polygon points="112.1,211.3 110.2,215.8 111.0,216.2 113.2,211.8" fill="#0007fc"/>
<polygon points="113.2,211.8 111.0,216.2 111.7,216.6 114.3,212.4" fill="#0007fb"/>
<polygon points="114.3,212.4 111.7,216.6 112.4,217.2 115.5,213.1" fill="#0007fa"/>
<polygon points="115.5,213.1 112.4,217.2 113.1,217.8 116.6,214.0" fill="#0007fb"/>
<polygon points="116.6,214.0 113.1,217.8 113.7,218.5 117.6,214.9" fill="#0006f6"/>
<polygon points="117.6,214.9 113.7,218.5 114.2,219.2 118.5,216.0" fill="#0007fb"/>
<polygon points="118.5,216.0 114.2,219.2 114.6,219.9 119.4,217.1" fill="#0007f8"/>
<polygon points="119.4,217.1 114.6,219.9 115.0,220.6 120.1,218.4" fill="#0008fd"/>
<polygon points="120.1,218.4 115.0,220.6 115.2,221.5 120.6,219.7" fill="#0005f0"/>
<polygon points="120.6,219.7 115.2,221.5 115.5,222.5 121.1,221.0" fill="#0007f9"/>
<polygon points="121.1,221.0 115.5,222.5 115.7,223.6 121.4,222.2" fill="#0007f8"/>
<polygon points="121.4,222.2 115.7,223.6 115.9,224.6 121.7,223.4" fill="#0006f6"/>
<polygon points="121.7,223.4 115.9,224.6 116.0,225.5 122.0,224.6" fill="#0005f1"/>
<polygon points="122.0,224.6 116.0,225.5 116.0,226.3 122.2,225.7" fill="#0007f8"/>
<polygon points="122.2,225.7 116.0,226.3 116.0,227.3 122.3,226.7" fill="#0005f0"/>
<polygon points="122.3,226.7 116.0,227.3 116.1,228.5 122.5,227.5" fill="#0006f7"/>
<polygon points="122.5,227.5 116.1,228.5 116.4,229.8 122.6,228.2" fill="#0006f6"/>
<polygon points="122.6,228.2 116.4,229.8 116.9,231.0 122.7,229.0" fill="#0006f7"/>
<polygon points="122.7,229.0 116.9,231.0 117.5,232.0 122.8,229.9" fill="#0008ff"/>
<polygon points="122.8,229.9 117.5,232.0 118.2,233.0 123.0,230.9" fill="#0007f8"/>
<polygon points="123.0,230.9 118.2,233.0 118.8,233.9 123.3,231.9" fill="#0007fc"/>
<polygon points="123.3,231.9 118.8,233.9 119.4,234.9 123.6,233.1" fill="#0008ff"/>
<polygon points="123.6,233.1 119.4,234.9 119.9,235.9 124.0,233.9" fill="#0005f2"/>
<polygon points="124.0,233.9 119.9,235.9 120.3,237.0 124.5,234.9" fill="#0007fc"/>
<polygon points="124.5,234.9 120.3,237.0 120.8,238.0 125.1,235.9" fill="#0006f7"/>
<polygon points="125.1,235.9 120.8,238.0 121.2,239.0 125.7,236.9" fill="#0006f3"/>
<polygon points="125.7,236.9 121.2,239.0 121.5,239.9 126.2,238.1" fill="#0006f6"/>
<polygon points="126.2,238.1 121.5,239.9 121.7,240.7 126.7,239.3" fill="#0007fa"/>
<polygon points="126.7,239.3 121.7,240.7 121.8,241.5 127.0,240.5" fill="#0006f7"/>
<polygon points="127.0,240.5 121.8,241.5 121.9,242.4 127.3,241.7" fill="#0006f6"/>
<polygon points="127.3,241.7 121.9,242.4 122.0,243.3 127.5,242.9" fill="#0005f2"/>
<polygon points="127.5,242.9 122.0,243.3 122.0,244.2 127.6,244.1" fill="#0008fd"/>
<polygon points="127.6,244.1 122.0,244.2 121.9,245.0 127.6,245.2" fill="#0006f6"/>
<polygon points="127.6,245.2 121.9,245.0 121.8,245.6 127.6,246.4" fill="#0007fb"/>
<polygon points="127.6,246.4 121.8,245.6 121.7,246.1 127.2,247.9" fill="#0007fb"/>
<polygon points="127.2,247.9 121.7,246.1 121.6,246.5 126.7,249.0" fill="#0006f3"/>
<polygon points="126.7,249.0 121.6,246.5 121.0,247.5 126.3,249.7" fill="#0006f7"/>
<polygon points="126.3,249.7 121.0,247.5 120.5,249.1 125.9,250.9" fill="#0006f6"/>
<polygon points="125.9,250.9 120.5,249.1 120.2,250.0 125.8,251.5" fill="#0006f3"/>
<polygon points="125.8,251.5 120.2,250.0 120.0,250.9 125.6,252.3" fill="#0005f0"/>
<polygon points="125.6,252.3 120.0,250.9 119.7,251.9 125.4,253.2" fill="#0007f8"/>
<polygon points="125.4,253.2 119.7,251.9 119.5,252.9 125.2,254.2" fill="#0006f5"/>
<polygon points="125.2,254.2 119.5,252.9 119.2,254.0 125.0,255.3" fill="#0006f7"/>
<polygon points="125.0,255.3 119.2,254.0 118.9,255.0 124.7,256.4" fill="#0006f7"/>
<polygon points="124.7,256.4 118.9,255.0 118.7,256.1 124.5,257.5" fill="#0006f4"/>
<polygon points="124.5,257.5 118.7,256.1 118.4,257.2 124.2,258.6" fill="#0007f8"/>
<polygon points="124.2,258.6 118.4,257.2 118.1,258.2 124.0,259.7" fill="#0006f6"/>
<polygon points="124.0,259.7 118.1,258.2 117.8,259.2 123.8,260.8" fill="#0006f7"/>
<polygon points="123.8,260.8 117.8,259.2 117.6,260.2 123.5,261.8" fill="#0005f0"/>
<polygon points="123.5,261.8 117.6,260.2 117.3,261.2 123.2,262.9" fill="#0006f4"/>
<polygon points="123.2,262.9 117.3,261.2 116.9,262.2 123.0,263.9" fill="#0005f1"/>
<polygon points="123.0,263.9 116.9,262.2 116.6,263.3 122.7,265.0" fill="#0005f0"/>
<polygon points="122.7,265.0 116.6,263.3 116.3,264.3 122.4,266.1" fill="#0007fb"/>
<polygon points="122.4,266.1 116.3,264.3 116.0,265.3 122.1,267.1" fill="#0006f6"/>
<polygon points="122.1,267.1 116.0,265.3 115.7,266.3 121.9,268.1" fill="#0005f0"/>
<polygon points="121.9,268.1 115.7,266.3 115.4,267.3 121.6,269.1" fill="#0005f2"/>
<polygon points="121.6,269.1 115.4,267.3 115.1,268.2 121.4,270.0" fill="#0008fd"/>
<polygon points="121.4,270.0 115.1,268.2 114.8,269.1 121.2,270.9" fill="#0008fd"/>
<polygon points="121.2,270.9 114.8,269.1 114.5,270.2 120.8,272.1" fill="#0007f8"/>
<polygon points="120.8,272.1 114.5,270.2 114.2,271.2 120.5,273.2" fill="#0008fe"/>
<polygon points="120.5,273.2 114.2,271.2 113.9,272.2 120.1,274.2" fill="#0007fb"/>
<polygon points="120.1,274.2 113.9,272.2 113.6,273.2 119.9,275.0" fill="#0008fe"/>
<polygon points="119.9,275.0 113.6,273.2 113.3,274.3 119.7,275.7" fill="#0006f4"/>
<polygon points="119.7,275.7 113.3,274.3 113.1,275.5 119.5,276.4" fill="#0005f2"/>
<polygon points="119.5,276.4 113.1,275.5 113.0,276.8 119.4,277.2" fill="#0005f1"/>
<polygon points="119.4,277.2 113.0,276.8 112.9,277.9 119.4,277.9" fill="#0008fd"/>
<polygon points="119.4,277.9 112.9,277.9 112.9,279.1 119.5,278.7" fill="#0006f4"/>
<polygon points="119.5,278.7 112.9,279.1 113.0,280.2 119.5,279.5" fill="#0006f4"/>
<polygon points="119.5,279.5 113.0,280.2 113.2,281.3 119.6,280.4" fill="#0008fd"/>
<polygon points="119.6,280.4 113.2,281.3 113.3,282.3 119.8,281.3" fill="#0005f1"/>
<polygon points="119.8,281.3 113.3,282.3 113.5,283.4 120.0,282.3" fill="#0005f0"/>
<polygon points="120.0,282.3 113.5,283.4 113.7,284.5 120.2,283.3" fill="#0007fb"/>
<polygon points="120.2,283.3 113.7,284.5 113.9,285.6 120.3,284.4" fill="#0005f0"/>
<polygon points="120.3,284.4 113.9,285.6 114.1,286.5 120.4,285.3" fill="#0007f9"/>
<polygon points="120.4,285.3 114.1,286.5 114.5,287.5 120.5,286.3" fill="#0006f7"/>
<polygon points="120.5,286.3 114.5,287.5 114.8,288.6 120.6,287.3" fill="#0005ef"/>
<polygon points="120.6,287.3 114.8,288.6 115.1,289.6 120.7,288.4" fill="#0005f2"/>
<polygon points="120.7,288.4 115.1,289.6 115.5,290.7 120.8,289.4" fill="#0007fc"/>
<polygon points="120.8,289.4 115.5,290.7 115.8,291.7 121.0,290.5" fill="#0007f8"/>
<polygon points="121.0,290.5 115.8,291.7 116.2,292.7 121.1,291.6" fill="#0006f7"/>
<polygon points="121.1,291.6 116.2,292.7 116.5,293.7 121.2,292.6" fill="#0007fa"/>
<polygon points="121.2,292.6 116.5,293.7 116.8,294.6 121.4,293.6" fill="#0007fc"/>
<polygon points="121.4,293.6 116.8,294.6 117.2,295.5 121.4,294.5" fill="#0007fa"/>
<polygon points="121.4,294.5 117.2,295.5 117.4,296.6 121.7,295.7" fill="#0006f3"/>
<polygon points="121.7,295.7 117.4,296.6 117.7,297.7 121.9,296.7" fill="#0008ff"/>
<polygon points="121.9,296.7 117.7,297.7 118.0,298.6 122.1,297.7" fill="#0006f6"/>
<polygon points="122.1,297.7 118.0,298.6 118.2,299.5 122.3,298.6" fill="#0007f8"/>
<polygon points="122.3,298.6 118.2,299.5 118.4,300.4 122.5,299.6" fill="#0008ff"/>
<polygon points="122.5,299.6 118.4,300.4 118.6,301.3 122.6,300.6" fill="#0007fa"/>
<polygon points="122.6,300.6 118.6,301.3 118.8,302.3 122.8,301.7" fill="#0006f5"/>
<polygon points="122.8,301.7 118.8,302.3 118.9,303.2 122.9,302.7" fill="#0006f7"/>
<polygon points="122.9,302.7 118.9,303.2 119.0,304.1 123.0,303.7" fill="#0008fe"/>
<polygon points="123.0,303.7 119.0,304.1 119.1,305.0 123.1,304.7" fill="#0005ef"/>
<polygon points="123.1,304.7 119.1,305.0 119.2,306.0 123.2,305.7" fill="#0005f2"/>
<polygon points="123.2,305.7 119.2,306.0 119.3,307.0 123.2,306.6" fill="#0005ef"/>
<polygon points="123.2,306.6 119.3,307.0 119.4,308.0 123.3,307.6" fill="#0008fd"/>
<polygon points="123.3,307.6 119.4,308.0 119.5,309.1 123.4,308.7" fill="#0007fb"/>
<polygon points="123.4,308.7 119.5,309.1 119.7,310.3 123.5,309.7" fill="#0008fe"/>
<polygon points="123.5,309.7 119.7,310.3 119.8,311.2 123.7,310.6" fill="#0006f3"/>
<polygon points="123.7,310.6 119.8,311.2 119.9,312.2 123.8,311.5" fill="#0007fb"/>
<polygon points="123.8,311.5 119.9,312.2 120.1,313.2 124.0,312.5" fill="#0008fd"/>
<polygon points="124.0,312.5 120.1,313.2 120.3,314.2 124.2,313.5" fill="#0007f8"/>
<polygon points="124.2,313.5 120.3,314.2 120.4,315.2 124.4,314.5" fill="#0005f0"/>
<polygon points="124.4,314.5 120.4,315.2 120.6,316.3 124.6,315.5" fill="#0005f2"/>
<polygon points="124.6,315.5 120.6,316.3 120.8,317.3 124.8,316.6" fill="#0007fb"/>
<polygon points="124.8,316.6 120.8,317.3 121.0,318.4 125.0,317.6" fill="#0008fd"/>
<polygon points="125.0,317.6 121.0,318.4 121.2,319.4 125.3,318.6" fill="#0005f0"/>
<polygon points="125.3,318.6 121.2,319.4 121.3,320.4 125.5,319.6" fill="#0006f6"/>
<polygon points="125.5,319.6 121.3,320.4 121.5,321.4 125.7,320.6" fill="#0006f4"/>
<polygon points="125.7,320.6 121.5,321.4 121.7,322.4 125.9,321.7" fill="#0008fe"/>
<polygon points="125.9,321.7 121.7,322.4 121.9,323.5 126.1,322.8" fill="#0008fe"/>
<polygon points="126.1,322.8 121.9,323.5 122.0,324.6 126.3,323.9" fill="#0006f4"/>
<polygon points="126.3,323.9 122.0,324.6 122.2,325.7 126.5,324.9" fill="#0007f8"/>
<polygon points="126.5,324.9 122.2,325.7 122.4,326.8 126.7,325.9" fill="#0008fe"/>
<polygon points="126.7,325.9 122.4,326.8 122.6,327.8 126.9,326.9" fill="#0005f0"/>
<polygon points="126.9,326.9 122.6,327.8 122.8,328.8 127.1,327.8" fill="#0006f5"/>
<polygon points="127.1,327.8 122.8,328.8 123.1,329.8 127.3,328.6" fill="#0005f2"/>
<polygon points="127.3,328.6 123.1,329.8 123.3,330.7 127.5,329.3" fill="#0008fe"/>
<polygon points="127.5,329.3 123.3,330.7 123.9,332.2 127.9,330.4" fill="#0005f1"/>
<polygon points="127.9,330.4 123.9,332.2 124.6,333.4 128.3,331.3" fill="#0008fe"/>
<polygon points="128.3,331.3 124.6,333.4 125.3,334.4 128.8,332.1" fill="#0005f1"/>
<polygon points="128.8,332.1 125.3,334.4 125.9,335.2 129.3,333.0" fill="#0007f8"/>
<polygon points="129.3,333.0 125.9,335.2 126.5,336.0 129.9,334.0" fill="#0007fa"/>
<polygon points="129.9,334.0 126.5,336.0 127.0,337.0 130.5,335.0" fill="#0006f6"/>
<polygon points="130.5,335.0 127.0,337.0 127.6,338.0 131.1,336.0" fill="#0005f0"/>
<polygon points="131.1,336.0 127.6,338.0 128.1,339.0 131.6,337.0" fill="#0007fb"/>
<polygon points="131.6,337.0 128.1,339.0 128.8,340.1 132.2,337.9" fill="#0008fd"/>
<polygon points="132.2,337.9 128.8,340.1 129.5,341.1 132.7,338.9" fill="#0006f7"/>
<polygon points="132.7,338.9 129.5,341.1 130.1,342.0 133.3,339.6" fill="#0007fb"/>
<polygon points="133.3,339.6 130.1,342.0 130.9,342.9 133.9,340.3" fill="#0008fd"/>
<polygon points="133.9,340.3 130.9,342.9 131.6,343.6 134.5,341.1" fill="#0007fc"/>
<polygon points="134.5,341.1 131.6,343.6 132.2,344.4 135.2,342.0" fill="#0008fe"/>
<polygon points="135.2,342.0 132.2,344.4 132.8,345.2 136.0,343.0" fill="#0007fc"/>
<polygon points="136.0,343.0 132.8,345.2 133.4,346.0 136.6,344.0" fill="#0007fa"/>
<polygon points="136.6,344.0 133.4,346.0 133.8,346.7 137.2,345.0" fill="#0007fa"/>
<polygon points="137.2,345.0 133.8,346.7 134.2,347.6 137.7,346.0" fill="#0006f3"/>
<polygon points="137.7,346.0 134.2,347.6 134.6,348.5 138.1,347.1" fill="#0007fa"/>
<polygon points="138.1,347.1 134.6,348.5 135.0,349.5 138.5,348.1" fill="#0006f7"/>
<polygon points="138.5,348.1 135.0,349.5 135.4,350.6 139.0,349.2" fill="#0007fc"/>
<polygon points="139.0,349.2 135.4,350.6 135.8,351.6 139.4,350.3" fill="#0007f9"/>
<polygon points="139.4,350.3 135.8,351.6 136.2,352.7 139.8,351.3" fill="#0008ff"/>
<polygon points="139.8,351.3 136.2,352.7 136.5,353.5 140.1,352.4" fill="#0007fb"/>
<polygon points="140.1,352.4 136.5,353.5 136.7,354.4 140.5,353.4" fill="#0008ff"/>
<polygon points="140.5,353.4 136.7,354.4 137.0,355.3 140.7,354.3" fill="#0006f3"/>
<polygon points="140.7,354.3 137.0,355.3 137.2,356.3 141.0,355.3" fill="#0006f6"/>
<polygon points="141.0,355.3 137.2,356.3 137.5,357.4 141.3,356.2" fill="#0007fc"/>
<polygon points="141.3,356.2 137.5,357.4 137.9,358.6 141.6,357.1" fill="#0006f7"/>
<polygon points="141.6,357.1 137.9,358.6 138.4,359.7 142.0,358.0" fill="#0005f0"/>
<polygon points="142.0,358.0 138.4,359.7 139.1,361.0 142.5,359.0" fill="#0008fd"/>
<polygon points="142.5,359.0 139.1,361.0 139.6,361.8 143.0,359.7" fill="#0005f2"/>
<polygon points="143.0,359.7 139.6,361.8 140.1,362.7 143.4,360.4" fill="#0007f8"/>
<polygon points="143.4,360.4 140.1,362.7 140.7,363.5 144.0,361.2" fill="#0006f7"/>
<polygon points="144.0,361.2 140.7,363.5 141.3,364.4 144.5,362.0" fill="#0005f2"/>
<polygon points="144.5,362.0 141.3,364.4 142.0,365.2 145.2,362.8" fill="#0007f9"/>
<polygon points="145.2,362.8 142.0,365.2 142.7,366.1 145.8,363.6" fill="#0006f7"/>
<polygon points="145.8,363.6 142.7,366.1 143.4,367.0 146.5,364.5" fill="#0006f4"/>
<polygon points="146.5,364.5 143.4,367.0 144.0,367.8 147.2,365.3" fill="#0005ef"/>
<polygon points="147.2,365.3 144.0,367.8 144.7,368.7 147.9,366.2" fill="#0007fa"/>
<polygon points="147.9,366.2 144.7,368.7 145.4,369.6 148.5,367.1" fill="#0005f2"/>
<polygon points="148.5,367.1 145.4,369.6 146.1,370.4 149.2,367.9" fill="#0006f4"/>
<polygon points="149.2,367.9 146.1,370.4 146.7,371.2 149.9,368.8" fill="#0006f5"/>
<polygon points="149.9,368.8 146.7,371.2 147.3,372.0 150.5,369.6" fill="#0007f9"/>
<polygon points="150.5,369.6 147.3,372.0 147.9,372.9 151.2,370.5" fill="#0007f9"/>
<polygon points="151.2,370.5 147.9,372.9 148.5,373.7 151.8,371.4" fill="#0008fe"/>
<polygon points="151.8,371.4 148.5,373.7 149.2,374.6 152.5,372.2" fill="#0008fd"/>
<polygon points="152.5,372.2 149.2,374.6 149.8,375.5 153.1,373.1" fill="#0008fe"/>
<polygon points="153.1,373.1 149.8,375.5 150.4,376.4 153.7,373.9" fill="#0006f3"/>
<polygon points="153.7,373.9 150.4,376.4 151.1,377.3 154.4,374.8" fill="#0007fb"/>
<polygon points="154.4,374.8 151.1,377.3 151.7,378.1 155.0,375.6" fill="#0007fc"/>
<polygon points="155.0,375.6 151.7,378.1 152.4,379.0 155.6,376.4" fill="#0008fe"/>
<polygon points="155.6,376.4 152.4,379.0 153.1,379.8 156.3,377.1" fill="#0005f2"/>
<polygon points="156.3,377.1 153.1,379.8 153.9,380.7 156.9,377.8" fill="#0005f1"/>
<polygon points="156.9,377.8 153.9,380.7 154.6,381.5 157.6,378.5" fill="#0006f4"/>
<polygon points="157.6,378.5 154.6,381.5 155.4,382.2 158.3,379.2" fill="#0007fa"/>
<polygon points="158.3,379.2 155.4,382.2 156.2,382.9 158.9,379.8" fill="#0007fb"/>
<polygon points="158.9,379.8 156.2,382.9 157.0,383.6 159.6,380.4" fill="#0007fa"/>
<polygon points="159.6,380.4 157.0,383.6 157.7,384.2 160.3,381.0" fill="#0007f8"/>
<polygon points="160.3,381.0 157.7,384.2 158.5,384.8 161.0,381.6" fill="#0007fc"/>
<polygon points="161.0,381.6 158.5,384.8 159.3,385.4 161.8,382.1" fill="#0007f8"/>
<polygon points="161.8,382.1 159.3,385.4 160.1,386.0 162.6,382.7" fill="#0007fb"/>
<polygon points="162.6,382.7 160.1,386.0 161.0,386.6 163.3,383.3" fill="#0005f0"/>
<polygon points="163.3,383.3 161.0,386.6 161.8,387.2 164.2,383.9" fill="#0005ef"/>
<polygon points="164.2,383.9 161.8,387.2 162.6,387.8 165.0,384.5" fill="#0006f6"/>
<polygon points="165.0,384.5 162.6,387.8 163.5,388.4 165.9,385.2" fill="#0007fb"/>
<polygon points="165.9,385.2 163.5,388.4 164.4,389.1 166.8,385.9" fill="#0005f0"/>
<polygon points="166.8,385.9 164.4,389.1 165.1,389.7 167.6,386.5" fill="#0007fa"/>
<polygon points="167.6,386.5 165.1,389.7 165.9,390.3 168.4,387.1" fill="#0007f9"/>
<polygon points="168.4,387.1 165.9,390.3 166.8,390.9 169.2,387.8" fill="#0008ff"/>
<polygon points="169.2,387.8 166.8,390.9 167.7,391.6 170.1,388.4" fill="#0007f9"/>
<polygon points="170.1,388.4 167.7,391.6 168.6,392.3 170.9,389.1" fill="#0006f7"/>
<polygon points="170.9,389.1 168.6,392.3 169.5,392.9 171.8,389.8" fill="#0006f7"/>
<polygon points="171.8,389.8 169.5,392.9 170.4,393.6 172.7,390.5" fill="#0007fc"/>
<polygon points="172.7,390.5 170.4,393.6 171.3,394.3 173.6,391.2" fill="#0006f7"/>
<polygon points="173.6,391.2 171.3,394.3 172.2,395.0 174.5,391.9" fill="#0008ff"/>
<polygon points="174.5,391.9 172.2,395.0 173.1,395.6 175.4,392.6" fill="#0007fb"/>
<polygon points="175.4,392.6 173.1,395.6 173.9,396.3 176.2,393.2" fill="#0008fe"/>
<polygon points="176.2,393.2 173.9,396.3 174.7,396.9 177.1,393.8" fill="#0007f9"/>
<polygon points="177.1,393.8 174.7,396.9 175.5,397.5 177.8,394.4" fill="#0008fe"/>
<polygon points="177.8,394.4 175.5,397.5 176.2,398.0 178.5,395.0" fill="#0008ff"/>
<polygon points="178.5,395.0 176.2,398.0 176.8,398.5 179.2,395.5" fill="#0007fa"/>
<polygon points="179.2,395.5 176.8,398.5 178.0,399.4 180.3,396.4" fill="#0007fb"/>
<polygon points="180.3,396.4 178.0,399.4 178.8,400.1 181.2,397.2" fill="#0006f6"/>
<polygon points="181.2,397.2 178.8,400.1 179.5,400.6 181.9,397.8" fill="#0006f7"/>
<polygon points="181.9,397.8 179.5,400.6 180.2,401.1 182.6,398.3" fill="#0006f3"/>
<polygon points="182.6,398.3 180.2,401.1 180.9,401.7 183.3,399.0" fill="#0006f4"/>
<polygon points="183.3,399.0 180.9,401.7 181.7,402.4 184.1,399.7" fill="#0006f4"/>
<polygon points="184.1,399.7 181.7,402.4 182.8,403.4 185.2,400.6" fill="#0005f1"/>
<polygon points="185.2,400.6 182.8,403.4 183.4,403.9 185.8,401.2" fill="#0007f9"/>
<polygon points="185.8,401.2 183.4,403.9 184.1,404.5 186.5,401.7" fill="#0007fa"/>
<polygon points="186.5,401.7 184.1,404.5 184.9,405.1 187.2,402.3" fill="#0005ef"/>
<polygon points="187.2,402.3 184.9,405.1 185.6,405.8 188.0,403.0" fill="#0008fd"/>
<polygon points="188.0,403.0 185.6,405.8 186.4,406.5 188.8,403.7" fill="#0006f3"/>
<polygon points="188.8,403.7 186.4,406.5 187.3,407.2 189.6,404.4" fill="#0006f5"/>
<polygon points="189.6,404.4 187.3,407.2 188.1,407.9 190.5,405.1" fill="#0008fe"/>
<polygon points="190.5,405.1 188.1,407.9 188.9,408.6 191.4,405.8" fill="#0005f2"/>
<polygon points="191.4,405.8 188.9,408.6 189.8,409.4 192.2,406.6" fill="#0005f1"/>
<polygon points="192.2,406.6 189.8,409.4 190.6,410.1 193.1,407.3" fill="#0006f5"/>
<polygon points="193.1,407.3 190.6,410.1 191.4,410.8 193.9,408.0" fill="#0006f3"/>
<polygon points="193.9,408.0 191.4,410.8 192.2,411.5 194.7,408.7" fill="#0005f2"/>
<polygon points="194.7,408.7 192.2,411.5 192.9,412.2 195.4,409.4" fill="#0008fd"/>
<polygon points="195.4,409.4 192.9,412.2 193.6,412.8 196.2,410.0" fill="#0006f7"/>
<polygon points="196.2,410.0 193.6,412.8 194.2,413.4 196.8,410.6" fill="#0006f7"/>
<polygon points="196.8,410.6 194.2,413.4 195.1,414.3 197.8,411.6" fill="#0005f2"/>
<polygon points="197.8,411.6 195.1,414.3 195.9,415.2 198.8,412.7" fill="#0005f2"/>
<polygon points="198.8,412.7 195.9,415.2 196.6,416.1 199.6,413.6" fill="#0005f2"/>
<polygon points="199.6,413.6 196.6,416.1 197.3,417.0 200.3,414.6" fill="#0006f6"/>
<polygon points="200.3,414.6 197.3,417.0 198.0,417.8 201.0,415.4" fill="#0005f1"/>
<polygon points="201.0,415.4 198.0,417.8 198.6,418.7 201.6,416.1" fill="#0006f4"/>
<polygon points="201.6,416.1 198.6,418.7 199.3,419.5 202.2,416.7" fill="#0006f4"/>
<polygon points="202.2,416.7 199.3,419.5 200.1,420.2 202.7,417.2" fill="#0007fb"/>
<polygon points="202.7,417.2 200.1,420.2 201.0,420.9 203.0,417.5" fill="#0008ff"/>
<polygon points="203.0,417.5 201.0,420.9 202.5,421.7 203.7,417.7" fill="#0008fd"/>
<polygon points="203.7,417.7 202.5,421.7 204.1,421.9 204.1,417.7" fill="#0007f9"/>
<polygon points="204.1,417.7 204.1,421.9 205.4,421.8 204.8,417.6" fill="#0008fd"/>
<polygon points="204.8,417.6 205.4,421.8 206.2,421.8 205.9,417.4" fill="#0005f2"/>
<polygon points="205.9,417.4 206.2,421.8 206.7,421.8 207.3,417.4" fill="#0006f6"/>
<polygon points="207.3,417.4 206.7,421.8 207.7,422.0 208.8,417.9" fill="#0006f5"/>
<polygon points="208.8,417.9 207.7,422.0 208.9,422.2 210.2,418.4" fill="#0006f5"/>
<polygon points="210.2,418.4 208.9,422.2 210.1,422.5 211.3,419.0" fill="#0006f4"/>
<polygon points="211.3,419.0 210.1,422.5 210.9,422.7 212.1,419.3" fill="#0006f7"/>
</g>
<polygon points="112,221 116,217 120,222 121.5,230 121,234 116,233 110,230 110,226" fill="#0008f0"/>
<g shape-rendering="crispEdges">
<polygon points="231.2,115.1 231.2,114.1 230.0,113.4 230.0,115.8" fill="#7d19eb"/>
<polygon points="230.0,115.8 230.0,113.4 228.6,112.7 228.4,116.5" fill="#7d19eb"/>
<polygon points="228.4,116.5 228.6,112.7 227.5,112.1 227.1,116.9" fill="#7d19eb"/>
<polygon points="227.1,116.9 227.5,112.1 226.7,111.5 225.9,117.3" fill="#7d19eb"/>
<polygon points="225.9,117.3 226.7,111.5 226.9,111.2 225.3,117.4" fill="#7d19eb"/>
<polygon points="225.3,117.4 226.9,111.2 226.1,110.8 224.9,117.6" fill="#7d19eb"/>
<polygon points="224.9,117.6 226.1,110.8 225.2,110.6 224.3,117.6" fill="#14ff00"/>
<polygon points="224.3,117.6 225.2,110.6 224.2,110.5 223.3,117.5" fill="#14ff00"/>
<polygon points="223.3,117.5 224.2,110.5 223.0,110.3 222.2,117.4" fill="#14ff00"/>
<polygon points="222.2,117.4 223.0,110.3 221.8,110.1 220.9,117.2" fill="#82ff00"/>
<polygon points="220.9,117.2 221.8,110.1 220.4,109.9 219.6,117.1" fill="#82ff00"/>
<polygon points="219.6,117.1 220.4,109.9 219.5,109.8 218.7,117.0" fill="#c8ff00"/>
<polygon points="218.7,117.0 219.5,109.8 218.5,109.7 217.7,116.9" fill="#c8ff00"/>
<polygon points="217.7,116.9 218.5,109.7 217.4,109.6 216.6,116.7" fill="#c8ff00"/>
<polygon points="216.6,116.7 217.4,109.6 216.3,109.4 215.5,116.6" fill="#6eff00"/>
<polygon points="215.5,116.6 216.3,109.4 215.3,109.3 214.5,116.5" fill="#6eff00"/>
<polygon points="214.5,116.5 215.3,109.3 214.2,109.2 213.4,116.4" fill="#6eff00"/>
<polygon points="213.4,116.4 214.2,109.2 213.2,109.1 212.5,116.3" fill="#96ff00"/>
<polygon points="212.5,116.3 213.2,109.1 212.3,109.0 211.7,116.2" fill="#96ff00"/>
<polygon points="211.7,116.2 212.3,109.0 211.0,108.8 210.4,116.1" fill="#dcff00"/>
<polygon points="210.4,116.1 211.0,108.8 209.9,108.7 209.5,116.1" fill="#ffff00"/>
<polygon points="209.5,116.1 209.9,108.7 208.9,108.7 208.6,116.0" fill="#ffff00"/>
<polygon points="208.6,116.0 208.9,108.7 207.7,108.6 207.3,116.0" fill="#ffff00"/>
<polygon points="207.3,116.0 207.7,108.6 206.8,108.6 206.4,116.0" fill="#ffff00"/>
<polygon points="206.4,116.0 206.8,108.6 205.8,108.5 205.4,115.9" fill="#ffff00"/>
<polygon points="205.4,115.9 205.8,108.5 204.7,108.4 204.4,115.9" fill="#ffff00"/>
<polygon points="204.4,115.9 204.7,108.4 203.6,108.4 203.3,115.8" fill="#ffff00"/>
<polygon points="203.3,115.8 203.6,108.4 202.4,108.3 202.1,115.8" fill="#ffff00"/>
<polygon points="202.1,115.8 202.4,108.3 201.2,108.3 201.0,115.8" fill="#ffff00"/>
<polygon points="201.0,115.8 201.2,108.3 200.1,108.3 199.9,115.7" fill="#ffff00"/>
<polygon points="199.9,115.7 200.1,108.3 199.2,108.3 198.9,115.7" fill="#ffff00"/>
<polygon points="198.9,115.7 199.2,108.3 198.4,108.3 198.1,115.6" fill="#ffff00"/>
<polygon points="198.1,115.6 198.4,108.3 197.5,108.2 197.2,115.6" fill="#ffff00"/>
<polygon points="197.2,115.6 197.5,108.2 196.6,108.2 196.4,115.5" fill="#ffff00"/>
<polygon points="196.4,115.5 196.6,108.2 195.7,108.3 195.6,115.4" fill="#ffdc00"/>
<polygon points="195.6,115.4 195.7,108.3 194.6,108.3 194.6,115.4" fill="#ffdc00"/>
<polygon points="194.6,115.4 194.6,108.3 193.3,108.3 193.5,115.4" fill="#ffeb00"/>
<polygon points="193.5,115.4 193.3,108.3 191.9,108.4 192.1,115.4" fill="#ffeb00"/>
<polygon points="192.1,115.4 191.9,108.4 191.1,108.4 191.4,115.4" fill="#ffe600"/>
<polygon points="191.4,115.4 191.1,108.4 190.2,108.5 190.5,115.4" fill="#ffe600"/>
<polygon points="190.5,115.4 190.2,108.5 189.2,108.6 189.5,115.5" fill="#ffd700"/>
<polygon points="189.5,115.5 189.2,108.6 188.2,108.6 188.5,115.5" fill="#ffd700"/>
<polygon points="188.5,115.5 188.2,108.6 187.1,108.7 187.5,115.6" fill="#ffd700"/>
<polygon points="187.5,115.6 187.1,108.7 186.0,108.8 186.4,115.6" fill="#ffd700"/>
<polygon points="186.4,115.6 186.0,108.8 184.9,108.8 185.3,115.6" fill="#ffc800"/>
<polygon points="185.3,115.6 184.9,108.8 183.8,108.9 184.2,115.7" fill="#ffc800"/>
<polygon points="184.2,115.7 183.8,108.9 182.7,109.0 183.1,115.8" fill="#ffe600"/>
<polygon points="183.1,115.8 182.7,109.0 181.5,109.1 182.0,115.8" fill="#ffd700"/>
<polygon points="182.0,115.8 181.5,109.1 180.4,109.2 180.9,115.9" fill="#ffe600"/>
<polygon points="180.9,115.9 180.4,109.2 179.4,109.3 179.9,115.9" fill="#ffe600"/>
<polygon points="179.9,115.9 179.4,109.3 178.4,109.3 178.9,116.0" fill="#ffe600"/>
<polygon points="178.9,116.0 178.4,109.3 177.4,109.4 177.9,116.1" fill="#ffff00"/>
<polygon points="177.9,116.1 177.4,109.4 176.5,109.5 177.1,116.1" fill="#ffff00"/>
<polygon points="177.1,116.1 176.5,109.5 175.7,109.6 176.3,116.2" fill="#ffff00"/>
<polygon points="176.3,116.2 175.7,109.6 174.2,109.8 175.0,116.3" fill="#ffe600"/>
<polygon points="175.0,116.3 174.2,109.8 173.0,109.9 173.9,116.5" fill="#ffe600"/>
<polygon points="173.9,116.5 173.0,109.9 171.9,110.1 173.0,116.6" fill="#ffe600"/>
<polygon points="173.0,116.6 171.9,110.1 170.9,110.3 172.1,116.7" fill="#ffff00"/>
<polygon points="172.1,116.7 170.9,110.3 170.0,110.5 171.4,116.9" fill="#ffff00"/>
<polygon points="171.4,116.9 170.0,110.5 169.1,110.7 170.6,117.1" fill="#ffff00"/>
<polygon points="170.6,117.1 169.1,110.7 168.2,110.9 169.7,117.3" fill="#ffff00"/>
<polygon points="169.7,117.3 168.2,110.9 167.3,111.1 168.7,117.5" fill="#ffff00"/>
<polygon points="168.7,117.5 167.3,111.1 166.2,111.4 167.8,117.7" fill="#ffff00"/>
<polygon points="167.8,117.7 166.2,111.4 165.1,111.7 166.8,118.0" fill="#ffff00"/>
<polygon points="166.8,118.0 165.1,111.7 164.1,111.9 165.8,118.2" fill="#ffff00"/>
<polygon points="165.8,118.2 164.1,111.9 163.0,112.2 164.8,118.5" fill="#ffff00"/>
<polygon points="164.8,118.5 163.0,112.2 162.0,112.5 163.8,118.8" fill="#ffff00"/>
<polygon points="163.8,118.8 162.0,112.5 160.9,112.8 162.7,119.2" fill="#ffff00"/>
<polygon points="162.7,119.2 160.9,112.8 159.8,113.1 161.6,119.5" fill="#ffff00"/>
<polygon points="161.6,119.5 159.8,113.1 158.8,113.4 160.4,119.8" fill="#ffff00"/>
<polygon points="160.4,119.8 158.8,113.4 157.8,113.6 159.4,120.1" fill="#ffff00"/>
<polygon points="159.4,120.1 157.8,113.6 156.8,113.9 158.3,120.3" fill="#ffff00"/>
<polygon points="158.3,120.3 156.8,113.9 155.7,114.1 157.2,120.6" fill="#ffff00"/>
<polygon points="157.2,120.6 155.7,114.1 154.7,114.4 156.1,120.8" fill="#ffff00"/>
<polygon points="156.1,120.8 154.7,114.4 153.6,114.6 155.1,121.0" fill="#ffff00"/>
<polygon points="155.1,121.0 153.6,114.6 152.4,114.9 154.0,121.3" fill="#ffff00"/>
<polygon points="154.0,121.3 152.4,114.9 151.3,115.2 152.9,121.6" fill="#ffff00"/>
<polygon points="152.9,121.6 151.3,115.2 150.1,115.5 151.9,121.8" fill="#ffff00"/>
<polygon points="151.9,121.8 150.1,115.5 148.9,115.9 150.9,122.1" fill="#ffff00"/>
<polygon points="150.9,122.1 148.9,115.9 147.8,116.2 150.0,122.5" fill="#ffeb00"/>
<polygon points="150.0,122.5 147.8,116.2 146.7,116.6 149.0,122.8" fill="#ffeb00"/>
<polygon points="149.0,122.8 146.7,116.6 145.7,117.0 148.0,123.2" fill="#ffeb00"/>
<polygon points="148.0,123.2 145.7,117.0 144.6,117.4 147.0,123.6" fill="#ffff00"/>
<polygon points="147.0,123.6 144.6,117.4 143.5,117.8 146.0,124.0" fill="#ffff00"/>
<polygon points="146.0,124.0 143.5,117.8 142.4,118.2 144.9,124.4" fill="#ffdc00"/>
<polygon points="144.9,124.4 142.4,118.2 141.4,118.6 143.9,124.8" fill="#ffdc00"/>
<polygon points="143.9,124.8 141.4,118.6 140.5,118.9 143.0,125.2" fill="#ffff00"/>
<polygon points="143.0,125.2 140.5,118.9 139.5,119.3 142.0,125.6" fill="#ffff00"/>
<polygon points="142.0,125.6 139.5,119.3 138.7,119.6 141.1,126.0" fill="#ffff00"/>
<polygon points="141.1,126.0 138.7,119.6 137.5,120.1 139.9,126.4" fill="#ffff00"/>
<polygon points="139.9,126.4 137.5,120.1 136.4,120.5 138.8,126.9" fill="#ffff00"/>
<polygon points="138.8,126.9 136.4,120.5 135.3,120.9 137.8,127.3" fill="#ffff00"/>
<polygon points="137.8,127.3 135.3,120.9 134.3,121.3 136.8,127.7" fill="#ffff00"/>
<polygon points="136.8,127.7 134.3,121.3 133.3,121.6 135.9,128.1" fill="#dcff00"/>
<polygon points="135.9,128.1 133.3,121.6 132.5,122.0 135.1,128.4" fill="#dcff00"/>
<polygon points="135.1,128.4 132.5,122.0 131.6,122.3 134.4,128.7" fill="#dcff00"/>
<polygon points="134.4,128.7 131.6,122.3 130.5,122.8 133.3,129.2" fill="#ffff00"/>
<polygon points="133.3,129.2 130.5,122.8 129.7,123.2 132.8,129.5" fill="#ffff00"/>
<polygon points="132.8,129.5 129.7,123.2 128.3,123.9 131.3,130.1" fill="#ffdc00"/>
<polygon points="131.3,130.1 128.3,123.9 127.6,124.2 130.6,130.5" fill="#ffdc00"/>
<polygon points="130.6,130.5 127.6,124.2 126.7,124.6 129.7,130.9" fill="#ffdc00"/>
<polygon points="129.7,130.9 126.7,124.6 125.8,125.0 128.8,131.4" fill="#ffff00"/>
<polygon points="128.8,131.4 125.8,125.0 124.7,125.5 127.7,131.9" fill="#ffff00"/>
<polygon points="127.7,131.9 124.7,125.5 123.6,126.0 126.7,132.4" fill="#ffff00"/>
<polygon points="126.7,132.4 123.6,126.0 122.5,126.5 125.6,132.9" fill="#ffff00"/>
<polygon points="125.6,132.9 122.5,126.5 121.4,127.0 124.5,133.5" fill="#ffff00"/>
<polygon points="124.5,133.5 121.4,127.0 120.3,127.6 123.5,134.0" fill="#ffff00"/>
<polygon points="123.5,134.0 120.3,127.6 119.3,128.1 122.6,134.4" fill="#ffff00"/>
<polygon points="122.6,134.4 119.3,128.1 118.4,128.5 121.8,134.9" fill="#ffff00"/>
<polygon points="121.8,134.9 118.4,128.5 117.3,129.1 120.8,135.4" fill="#ffff00"/>
<polygon points="120.8,135.4 117.3,129.1 116.4,129.6 120.0,135.9" fill="#ffff00"/>
<polygon points="120.0,135.9 116.4,129.6 115.5,130.1 119.3,136.3" fill="#ffff00"/>
<polygon points="119.3,136.3 115.5,130.1 114.7,130.6 118.7,136.7" fill="#ffff00"/>
<polygon points="118.7,136.7 114.7,130.6 113.9,131.2 117.9,137.2" fill="#ffff00"/>
<polygon points="117.9,137.2 113.9,131.2 113.0,131.8 117.1,137.8" fill="#ffeb00"/>
<polygon points="117.1,137.8 113.0,131.8 111.9,132.5 116.1,138.5" fill="#ffeb00"/>
<polygon points="116.1,138.5 111.9,132.5 111.2,133.0 115.3,139.0" fill="#ffff00"/>
<polygon points="115.3,139.0 111.2,133.0 110.4,133.6 114.6,139.6" fill="#ffff00"/>
<polygon points="114.6,139.6 110.4,133.6 109.5,134.2 113.7,140.2" fill="#ffd700"/>
<polygon points="113.7,140.2 109.5,134.2 108.6,134.8 112.8,140.8" fill="#ffd700"/>
<polygon points="112.8,140.8 108.6,134.8 107.6,135.5 111.8,141.5" fill="#ffff00"/>
<polygon points="111.8,141.5 107.6,135.5 106.6,136.2 110.9,142.1" fill="#ffff00"/>
<polygon points="110.9,142.1 106.6,136.2 105.7,136.9 109.9,142.8" fill="#ffd700"/>
<polygon points="109.9,142.8 105.7,136.9 104.8,137.5 109.0,143.5" fill="#ffb400"/>
<polygon points="109.0,143.5 104.8,137.5 103.9,138.2 108.2,144.1" fill="#ffb400"/>
<polygon points="108.2,144.1 103.9,138.2 103.1,138.7 107.4,144.6" fill="#ffb400"/>
<polygon points="107.4,144.6 103.1,138.7 102.4,139.2 106.7,145.1" fill="#ffc800"/>
<polygon points="106.7,145.1 102.4,139.2 101.8,139.7 106.2,145.5" fill="#ffc800"/>
<polygon points="106.2,145.5 101.8,139.7 100.3,140.9 105.1,146.4" fill="#ffdc00"/>
<polygon points="105.1,146.4 100.3,140.9 99.4,141.8 104.2,147.2" fill="#ffff00"/>
<polygon points="104.2,147.2 99.4,141.8 98.9,142.2 103.5,147.8" fill="#ffd700"/>
<polygon points="103.5,147.8 98.9,142.2 98.2,142.7 102.7,148.4" fill="#ffd700"/>
<polygon points="102.7,148.4 98.2,142.7 97.4,143.4 101.9,149.0" fill="#ffb400"/>
<polygon points="101.9,149.0 97.4,143.4 96.5,144.1 101.1,149.7" fill="#ffb400"/>
<polygon points="101.1,149.7 96.5,144.1 95.6,144.8 100.2,150.4" fill="#ffd700"/>
<polygon points="100.2,150.4 95.6,144.8 94.7,145.7 99.3,151.1" fill="#ffc800"/>
<polygon points="99.3,151.1 94.7,145.7 93.7,146.5 98.5,151.9" fill="#ffc800"/>
<polygon points="98.5,151.9 93.7,146.5 92.7,147.4 97.7,152.6" fill="#ffff00"/>
<polygon points="97.7,152.6 92.7,147.4 92.0,148.1 97.0,153.3" fill="#ffff00"/>
<polygon points="97.0,153.3 92.0,148.1 91.2,148.9 96.3,154.0" fill="#ffff00"/>
<polygon points="96.3,154.0 91.2,148.9 90.4,149.8 95.5,154.8" fill="#ffd700"/>
<polygon points="95.5,154.8 90.4,149.8 89.5,150.6 94.7,155.6" fill="#ffd700"/>
<polygon points="94.7,155.6 89.5,150.6 88.7,151.5 93.9,156.4" fill="#ffe600"/>
<polygon points="93.9,156.4 88.7,151.5 88.0,152.3 93.2,157.2" fill="#ffe600"/>
<polygon points="93.2,157.2 88.0,152.3 87.2,153.1 92.4,158.0" fill="#ffe600"/>
<polygon points="92.4,158.0 87.2,153.1 86.5,153.9 91.7,158.7" fill="#ffe600"/>
<polygon points="91.7,158.7 86.5,153.9 85.9,154.5 91.1,159.4" fill="#ffd700"/>
<polygon points="91.1,159.4 85.9,154.5 85.4,155.1 90.6,159.9" fill="#ffd700"/>
<polygon points="90.6,159.9 85.4,155.1 84.5,156.0 89.7,160.9" fill="#ffff00"/>
<polygon points="89.7,160.9 84.5,156.0 84.2,156.3 89.3,161.3" fill="#ffff00"/>
<polygon points="89.3,161.3 84.2,156.3 83.1,157.5 88.1,162.5" fill="#ffff00"/>
<polygon points="88.1,162.5 83.1,157.5 82.6,158.0 87.6,163.0" fill="#ffc800"/>
<polygon points="87.6,163.0 82.6,158.0 82.0,158.5 87.1,163.6" fill="#ffc800"/>
<polygon points="87.1,163.6 82.0,158.5 81.4,159.2 86.4,164.2" fill="#ffc800"/>
<polygon points="86.4,164.2 81.4,159.2 80.7,159.9 85.7,164.9" fill="#ffff00"/>
<polygon points="85.7,164.9 80.7,159.9 80.0,160.6 85.0,165.6" fill="#ffff00"/>
<polygon points="85.0,165.6 80.0,160.6 79.2,161.4 84.2,166.4" fill="#ffb400"/>
<polygon points="84.2,166.4 79.2,161.4 78.4,162.1 83.5,167.2" fill="#ffb400"/>
<polygon points="83.5,167.2 78.4,162.1 77.6,163.0 82.7,168.0" fill="#ffff00"/>
<polygon points="82.7,168.0 77.6,163.0 76.8,163.8 81.9,168.8" fill="#ffff00"/>
<polygon points="81.9,168.8 76.8,163.8 76.0,164.6 81.1,169.5" fill="#ffc800"/>
<polygon points="81.1,169.5 76.0,164.6 75.2,165.4 80.4,170.3" fill="#ffc800"/>
<polygon points="80.4,170.3 75.2,165.4 74.5,166.2 79.7,171.0" fill="#ffc800"/>
<polygon points="79.7,171.0 74.5,166.2 73.8,166.9 79.0,171.7" fill="#ffc800"/>
<polygon points="79.0,171.7 73.8,166.9 73.2,167.6 78.4,172.4" fill="#ffc800"/>
<polygon points="78.4,172.4 73.2,167.6 72.3,168.5 77.7,173.2" fill="#ffd700"/>
<polygon points="77.7,173.2 72.3,168.5 71.6,169.4 77.0,174.1" fill="#ffd700"/>
<polygon points="77.0,174.1 71.6,169.4 70.8,170.3 76.3,174.9" fill="#ffd700"/>
<polygon points="76.3,174.9 70.8,170.3 70.1,171.1 75.7,175.6" fill="#ffd700"/>
<polygon points="75.7,175.6 70.1,171.1 69.5,172.0 75.1,176.4" fill="#ffd700"/>
<polygon points="75.1,176.4 69.5,172.0 68.8,172.8 74.5,177.1" fill="#ffff00"/>
<polygon points="74.5,177.1 68.8,172.8 68.2,173.6 74.0,177.9" fill="#ffff00"/>
<polygon points="74.0,177.9 68.2,173.6 67.6,174.4 73.5,178.6" fill="#ffff00"/>
<polygon points="73.5,178.6 67.6,174.4 67.0,175.2 73.0,179.3" fill="#ffff00"/>
<polygon points="73.0,179.3 67.0,175.2 66.5,176.0 72.5,180.0" fill="#ffff00"/>
<polygon points="72.5,180.0 66.5,176.0 65.7,177.2 71.9,180.9" fill="#ffc800"/>
<polygon points="71.9,180.9 65.7,177.2 65.0,178.4 71.4,181.8" fill="#ffe600"/>
<polygon points="71.4,181.8 65.0,178.4 64.4,179.5 71.0,182.8" fill="#ffe600"/>
<polygon points="71.0,182.8 64.4,179.5 63.9,180.6 70.5,183.8" fill="#ffe600"/>
<polygon points="70.5,183.8 63.9,180.6 63.4,181.5 70.1,184.8" fill="#ffe600"/>
<polygon points="70.1,184.8 63.4,181.5 63.0,182.4 69.6,185.8" fill="#ffc800"/>
<polygon points="69.6,185.8 63.0,182.4 62.5,183.2 69.1,186.8" fill="#ffc800"/>
<polygon points="69.1,186.8 62.5,183.2 61.9,184.1 68.5,187.9" fill="#ffff00"/>
<polygon points="68.5,187.9 61.9,184.1 61.3,185.0 68.0,189.0" fill="#ffff00"/>
<polygon points="68.0,189.0 61.3,185.0 60.7,185.8 67.5,190.0" fill="#ffff00"/>
<polygon points="67.5,190.0 60.7,185.8 60.0,186.7 67.1,190.9" fill="#ffd700"/>
<polygon points="67.1,190.9 60.0,186.7 59.4,187.6 66.7,191.7" fill="#ffd700"/>
<polygon points="66.7,191.7 59.4,187.6 58.8,188.5 66.4,192.5" fill="#ffd700"/>
<polygon points="66.4,192.5 58.8,188.5 58.0,189.8 65.9,193.7" fill="#ff3c00"/>
<polygon points="65.9,193.7 58.0,189.8 57.3,191.1 65.6,194.8" fill="#ff3c00"/>
<polygon points="65.6,194.8 57.3,191.1 56.6,192.3 65.3,195.8" fill="#ffc800"/>
<polygon points="65.3,195.8 56.6,192.3 56.2,193.2 65.0,196.8" fill="#ffc800"/>
<polygon points="65.0,196.8 56.2,193.2 55.4,195.4 64.9,196.5" fill="#ff3200"/>
<polygon points="64.9,196.5 55.4,195.4 55.5,198.0 65.1,197.0" fill="#ff9600"/>
<polygon points="65.1,197.0 55.5,198.0 55.7,199.0 65.2,197.5" fill="#ff9600"/>
<polygon points="65.2,197.5 55.7,199.0 55.8,199.9 65.3,198.4" fill="#ff3200"/>
<polygon points="65.3,198.4 55.8,199.9 56.0,201.0 65.5,199.4" fill="#ff3200"/>
<polygon points="65.5,199.4 56.0,201.0 56.2,202.3 65.7,200.4" fill="#ff0000"/>
<polygon points="65.7,200.4 56.2,202.3 56.5,203.6 65.9,201.5" fill="#ff0000"/>
<polygon points="65.9,201.5 56.5,203.6 56.8,205.0 66.1,202.5" fill="#ff0000"/>
<polygon points="66.1,202.5 56.8,205.0 57.3,206.4 66.4,203.4" fill="#ff6e00"/>
<polygon points="66.4,203.4 57.3,206.4 57.8,207.8 66.7,204.1" fill="#ff6e00"/>
<polygon points="66.7,204.1 57.8,207.8 58.5,209.2 66.9,204.8" fill="#ff6e00"/>
<polygon points="66.9,204.8 58.5,209.2 59.2,210.4 67.3,205.3" fill="#ff9600"/>
<polygon points="67.3,205.3 59.2,210.4 59.9,211.5 67.7,205.8" fill="#ff9600"/>
<polygon points="67.7,205.8 59.9,211.5 60.7,212.6 68.2,206.5" fill="#ff9600"/>
<polygon points="68.2,206.5 60.7,212.6 61.5,213.5 68.7,207.1" fill="#ff0000"/>
<polygon points="68.7,207.1 61.5,213.5 62.3,214.5 69.4,207.8" fill="#ff0000"/>
<polygon points="69.4,207.8 62.3,214.5 63.2,215.3 70.0,208.4" fill="#ff6e00"/>
<polygon points="70.0,208.4 63.2,215.3 64.0,216.2 70.7,209.1" fill="#ff6e00"/>
<polygon points="70.7,209.1 64.0,216.2 64.8,216.9 71.3,209.7" fill="#ff6e00"/>
<polygon points="71.3,209.7 64.8,216.9 65.6,217.6 72.0,210.2" fill="#ff9600"/>
<polygon points="72.0,210.2 65.6,217.6 66.4,218.3 72.6,210.7" fill="#ff0000"/>
<polygon points="72.6,210.7 66.4,218.3 67.6,219.2 73.3,211.2" fill="#ff0000"/>
<polygon points="73.3,211.2 67.6,219.2 68.8,220.1 73.9,211.6" fill="#ff0000"/>
<polygon points="73.9,211.6 68.8,220.1 70.0,220.7 74.6,212.0" fill="#ff9600"/>
<polygon points="74.6,212.0 70.0,220.7 71.2,221.3 75.4,212.3" fill="#ff9600"/>
<polygon points="75.4,212.3 71.2,221.3 72.2,221.8 76.2,212.7" fill="#ff9600"/>
<polygon points="76.2,212.7 72.2,221.8 73.1,222.2 77.1,213.0" fill="#ff0000"/>
<polygon points="77.1,213.0 73.1,222.2 74.0,222.6 78.0,213.4" fill="#ff0000"/>
<polygon points="78.0,213.4 74.0,222.6 75.1,223.1 78.9,213.8" fill="#ff0000"/>
<polygon points="78.9,213.8 75.1,223.1 76.3,223.5 79.8,214.2" fill="#ffc800"/>
<polygon points="79.8,214.2 76.3,223.5 77.4,223.9 80.6,214.4" fill="#ffc800"/>
<polygon points="80.6,214.4 77.4,223.9 78.6,224.3 81.4,214.7" fill="#ffc800"/>
<polygon points="81.4,214.7 78.6,224.3 79.8,224.6 82.2,214.9" fill="#ff0000"/>
<polygon points="82.2,214.9 79.8,224.6 81.0,224.9 83.0,215.1" fill="#ff0000"/>
<polygon points="83.0,215.1 81.0,224.9 82.2,225.1 83.8,215.3" fill="#ff0000"/>
<polygon points="83.8,215.3 82.2,225.1 83.4,225.2 84.6,215.5" fill="#ff0000"/>
<polygon points="84.6,215.5 83.4,225.2 84.6,225.3 85.4,215.6" fill="#ffc800"/>
<polygon points="85.4,215.6 84.6,225.3 85.8,225.3 86.2,215.7" fill="#ffc800"/>
<polygon points="86.2,215.7 85.8,225.3 87.0,225.3 87.0,215.7" fill="#ff0000"/>
<polygon points="87.0,215.7 87.0,225.3 88.2,225.2 87.8,215.8" fill="#ff0000"/>
<polygon points="87.8,215.8 88.2,225.2 89.7,225.0 88.7,215.8" fill="#ff9600"/>
<polygon points="88.7,215.8 89.7,225.0 91.1,224.6 89.7,215.9" fill="#ff9600"/>
<polygon points="89.7,215.9 91.1,224.6 92.4,224.2 90.7,215.8" fill="#ff9600"/>
<polygon points="90.7,215.8 92.4,224.2 93.7,223.8 91.5,215.8" fill="#ffc800"/>
<polygon points="91.5,215.8 93.7,223.8 95.2,223.1 91.8,215.9" fill="#ff0000"/>
<polygon points="91.8,215.9 95.2,223.1 96.7,221.8 92.2,216.1" fill="#ffe600"/>
<polygon points="92.2,216.1 96.7,221.8 97.2,220.8 92.9,215.7" fill="#ffe600"/>
<polygon points="92.9,215.7 97.2,220.8 97.5,220.2 94.5,215.0" fill="#ffd700"/>
<polygon points="94.5,215.0 97.5,220.2 98.1,219.8 95.8,214.5" fill="#14ff00"/>
<polygon points="95.8,214.5 98.1,219.8 99.1,219.3 97.0,214.1" fill="#14ff00"/>
<polygon points="97.0,214.1 99.1,219.3 100.2,218.8 98.4,213.6" fill="#14ff00"/>
<polygon points="98.4,213.6 100.2,218.8 101.2,218.4 99.7,213.3" fill="#14ff00"/>
<polygon points="99.7,213.3 101.2,218.4 101.9,218.2 101.1,213.0" fill="#14ff00"/>
<polygon points="101.1,213.0 101.9,218.2 102.7,218.1 102.8,212.8" fill="#14ff00"/>
<polygon points="102.8,212.8 102.7,218.1 103.3,218.3 104.3,213.0" fill="#14ff00"/>
<polygon points="104.3,213.0 103.3,218.3 104.4,218.6 105.6,213.2" fill="#14ff00"/>
<polygon points="105.6,213.2 104.4,218.6 105.4,218.9 106.7,213.4" fill="#c8ff00"/>
<polygon points="106.7,213.4 105.4,218.9 106.5,219.2 108.1,213.7" fill="#6eff00"/>
<polygon points="108.1,213.7 106.5,219.2 107.4,219.6 109.5,214.1" fill="#6eff00"/>
<polygon points="109.5,214.1 107.4,219.6 108.2,220.0 110.8,214.6" fill="#96ff00"/>
<polygon points="110.8,214.6 108.2,220.0 109.0,220.4 112.1,215.3" fill="#ffff00"/>
<polygon points="112.1,215.3 109.0,220.4 109.7,220.9 113.3,216.1" fill="#ffff00"/>
<polygon points="113.3,216.1 109.7,220.9 110.1,221.2 114.6,217.3" fill="#ffff00"/>
<polygon points="114.6,217.3 110.1,221.2 109.9,220.7 115.7,219.3" fill="#ffb400"/>
<polygon points="115.7,219.3 109.9,220.7 109.9,220.5 115.7,221.8" fill="#ffb400"/>
<polygon points="115.7,221.8 109.9,220.5 109.7,221.0 114.8,223.8" fill="#ffb400"/>
<polygon points="114.8,223.8 109.7,221.0 109.2,221.7 113.8,225.3" fill="#ffff00"/>
<polygon points="113.8,225.3 109.2,221.7 108.9,222.0 112.6,226.4" fill="#ffaf00"/>
<polygon points="112.6,226.4 108.9,222.0 108.2,222.6 111.4,227.2" fill="#ffaf00"/>
<polygon points="111.4,227.2 108.2,222.6 107.2,223.3 110.5,227.8" fill="#ffaf00"/>
<polygon points="110.5,227.8 107.2,223.3 106.2,224.1 109.8,228.3" fill="#ff7800"/>
<polygon points="109.8,228.3 106.2,224.1 105.1,225.2 108.8,229.1" fill="#ff7800"/>
<polygon points="108.8,229.1 105.1,225.2 104.0,226.5 108.0,229.7" fill="#ffc800"/>
<polygon points="108.0,229.7 104.0,226.5 103.0,228.7 108.0,229.3" fill="#ff7800"/>
<polygon points="108.0,229.3 103.0,228.7 103.4,231.7 108.1,228.9" fill="#ff3200"/>
<polygon points="108.1,228.9 103.4,231.7 105.2,233.9 108.8,229.1" fill="#ff3200"/>
<polygon points="108.8,229.1 105.2,233.9 106.5,234.6 109.0,229.2" fill="#ffaf00"/>
<polygon points="109.0,229.2 106.5,234.6 107.7,235.1 109.8,229.5" fill="#ff7800"/>
<polygon points="109.8,229.5 107.7,235.1 108.9,235.5 110.8,229.8" fill="#ffaf00"/>
<polygon points="110.8,229.8 108.9,235.5 110.1,235.9 111.9,230.2" fill="#ffaf00"/>
<polygon points="111.9,230.2 110.1,235.9 111.3,236.3 112.9,230.5" fill="#ffaf00"/>
<polygon points="112.9,230.5 111.3,236.3 112.5,236.6 113.5,230.6" fill="#ffaf00"/>
<polygon points="113.5,230.6 112.5,236.6 114.3,236.6 114.4,230.8" fill="#ffaf00"/>
<polygon points="114.4,230.8 114.3,236.6 115.3,236.4 115.5,230.8" fill="#ffaf00"/>
<polygon points="115.5,230.8 115.3,236.4 115.6,236.4 117.4,231.2" fill="#ffaf00"/>
<polygon points="117.4,231.2 115.6,236.4 116.1,236.6 118.8,232.0" fill="#6eff00"/>
<polygon points="118.8,232.0 116.1,236.6 116.9,237.1 120.1,232.8" fill="#6eff00"/>
<polygon points="120.1,232.8 116.9,237.1 117.5,237.6 121.3,233.9" fill="#e6ff00"/>
<polygon points="121.3,233.9 117.5,237.6 117.6,237.6 122.4,235.4" fill="#e6ff00"/>
<polygon points="122.4,235.4 117.6,237.6 117.5,237.3 122.9,237.5" fill="#14ff00"/>
<polygon points="122.9,237.5 117.5,237.3 117.2,237.5 122.6,239.3" fill="#14ff00"/>
<polygon points="122.6,239.3 117.2,237.5 116.7,238.4 122.3,240.6" fill="#14ff00"/>
<polygon points="122.3,240.6 116.7,238.4 116.2,239.2 121.9,241.8" fill="#ffff00"/>
<polygon points="121.9,241.8 116.2,239.2 115.6,240.3 121.4,243.1" fill="#ffff00"/>
<polygon points="121.4,243.1 115.6,240.3 114.8,241.7 121.1,244.1" fill="#ffff00"/>
<polygon points="121.1,244.1 114.8,241.7 114.2,243.4 121.0,244.6" fill="#ffff00"/>
<polygon points="121.0,244.6 114.2,243.4 114.2,245.2 120.9,244.9" fill="#ffff00"/>
<polygon points="120.9,244.9 114.2,245.2 114.6,246.6 120.8,245.5" fill="#ffff00"/>
<polygon points="120.8,245.5 114.6,246.6 115.0,247.5 120.8,246.6" fill="#ffff00"/>
<polygon points="120.8,246.6 115.0,247.5 115.3,248.3 120.7,247.7" fill="#ffff00"/>
<polygon points="120.7,247.7 115.3,248.3 115.4,249.1 120.7,248.9" fill="#b4ff00"/>
<polygon points="120.7,248.9 115.4,249.1 115.6,249.7 120.6,250.3" fill="#ffff00"/>
<polygon points="120.6,250.3 115.6,249.7 115.5,251.0 120.1,252.0" fill="#ffff00"/>
<polygon points="120.1,252.0 115.5,251.0 115.3,251.7 119.9,253.0" fill="#14ff00"/>
<polygon points="119.9,253.0 115.3,251.7 115.0,252.5 119.6,254.0" fill="#14ff00"/>
<polygon points="119.6,254.0 115.0,252.5 114.6,253.5 119.3,255.0" fill="#14ff00"/>
<polygon points="119.3,255.0 114.6,253.5 114.3,254.6 119.0,256.1" fill="#14ff00"/>
<polygon points="119.0,256.1 114.3,254.6 113.8,255.7 118.6,257.3" fill="#14ff00"/>
<polygon points="118.6,257.3 113.8,255.7 113.4,256.9 118.3,258.5" fill="#14ff00"/>
<polygon points="118.3,258.5 113.4,256.9 113.0,258.0 117.9,259.6" fill="#82ff00"/>
<polygon points="117.9,259.6 113.0,258.0 112.6,259.2 117.6,260.8" fill="#14ff00"/>
<polygon points="117.6,260.8 112.6,259.2 112.3,260.2 117.3,261.7" fill="#14ff00"/>
<polygon points="117.3,261.7 112.3,260.2 112.0,261.2 117.0,262.7" fill="#14ff00"/>
<polygon points="117.0,262.7 112.0,261.2 111.7,262.2 116.7,263.7" fill="#14ff00"/>
<polygon points="116.7,263.7 111.7,262.2 111.4,263.3 116.3,264.8" fill="#14ff00"/>
<polygon points="116.3,264.8 111.4,263.3 111.0,264.3 116.0,265.8" fill="#14ff00"/>
<polygon points="116.0,265.8 111.0,264.3 110.7,265.4 115.7,266.9" fill="#14ff00"/>
<polygon points="115.7,266.9 110.7,265.4 110.4,266.4 115.4,267.9" fill="#14ff00"/>
<polygon points="115.4,267.9 110.4,266.4 110.1,267.4 115.1,268.9" fill="#14ff00"/>
<polygon points="115.1,268.9 110.1,267.4 109.8,268.4 114.8,269.8" fill="#82ff00"/>
<polygon points="114.8,269.8 109.8,268.4 109.6,269.3 114.6,270.7" fill="#82ff00"/>
<polygon points="114.6,270.7 109.6,269.3 109.3,270.4 114.2,271.9" fill="#82ff00"/>
<polygon points="114.2,271.9 109.3,270.4 109.0,271.4 113.9,273.0" fill="#14ff00"/>
<polygon points="113.9,273.0 109.0,271.4 108.6,272.4 113.6,273.9" fill="#14ff00"/>
<polygon points="113.6,273.9 108.6,272.4 108.3,273.4 113.4,274.8" fill="#14ff00"/>
<polygon points="113.4,274.8 108.3,273.4 108.1,274.5 113.2,275.5" fill="#14ff00"/>
<polygon points="113.2,275.5 108.1,274.5 107.9,275.7 113.1,276.3" fill="#14ff00"/>
<polygon points="113.1,276.3 107.9,275.7 107.8,276.9 113.0,277.1" fill="#14ff00"/>
<polygon points="113.0,277.1 107.8,276.9 107.9,278.1 113.0,277.8" fill="#14ff00"/>
<polygon points="113.0,277.8 107.9,278.1 108.0,279.2 113.0,278.6" fill="#14ff00"/>
<polygon points="113.0,278.6 108.0,279.2 108.2,280.2 113.0,279.5" fill="#14ff00"/>
<polygon points="113.0,279.5 108.2,280.2 108.4,281.3 113.2,280.4" fill="#14ff00"/>
<polygon points="113.2,280.4 108.4,281.3 108.7,282.3 113.3,281.3" fill="#50ff00"/>
<polygon points="113.3,281.3 108.7,282.3 109.0,283.3 113.5,282.3" fill="#50ff00"/>
<polygon points="113.5,282.3 109.0,283.3 109.3,284.4 113.7,283.4" fill="#14ff00"/>
<polygon points="113.7,283.4 109.3,284.4 109.5,285.4 113.9,284.6" fill="#14ff00"/>
<polygon points="113.9,284.6 109.5,285.4 109.7,286.4 114.0,285.5" fill="#14ff00"/>
<polygon points="114.0,285.5 109.7,286.4 110.0,287.4 114.3,286.4" fill="#14ff00"/>
<polygon points="114.3,286.4 110.0,287.4 110.2,288.4 114.5,287.4" fill="#14ff00"/>
<polygon points="114.5,287.4 110.2,288.4 110.5,289.5 114.7,288.5" fill="#14ff00"/>
<polygon points="114.7,288.5 110.5,289.5 110.7,290.6 115.0,289.5" fill="#82ff00"/>
<polygon points="115.0,289.5 110.7,290.6 111.0,291.6 115.2,290.6" fill="#82ff00"/>
<polygon points="115.2,290.6 111.0,291.6 111.2,292.7 115.5,291.6" fill="#82ff00"/>
<polygon points="115.5,291.6 111.2,292.7 111.4,293.7 115.7,292.7" fill="#14ff00"/>
<polygon points="115.7,292.7 111.4,293.7 111.7,294.6 116.0,293.6" fill="#14ff00"/>
<polygon points="116.0,293.6 111.7,294.6 111.8,295.5 116.2,294.5" fill="#50ff00"/>
<polygon points="116.2,294.5 111.8,295.5 112.0,296.6 116.5,295.7" fill="#c8ff00"/>
<polygon points="116.5,295.7 112.0,296.6 112.2,297.7 116.8,296.7" fill="#c8ff00"/>
<polygon points="116.8,296.7 112.2,297.7 112.3,298.6 117.0,297.7" fill="#e6ff00"/>
<polygon points="117.0,297.7 112.3,298.6 112.4,299.5 117.3,298.6" fill="#e6ff00"/>
<polygon points="117.3,298.6 112.4,299.5 112.4,300.4 117.6,299.6" fill="#e6ff00"/>
<polygon points="117.6,299.6 112.4,300.4 112.5,301.4 117.8,300.6" fill="#96ff00"/>
<polygon points="117.8,300.6 112.5,301.4 112.6,302.4 118.0,301.6" fill="#96ff00"/>
<polygon points="118.0,301.6 112.6,302.4 112.6,303.2 118.2,302.7" fill="#ffff00"/>
<polygon points="118.2,302.7 112.6,303.2 112.7,304.1 118.3,303.7" fill="#ffff00"/>
<polygon points="118.3,303.7 112.7,304.1 112.7,305.0 118.4,304.6" fill="#ffff00"/>
<polygon points="118.4,304.6 112.7,305.0 112.7,306.0 118.5,305.6" fill="#ffff00"/>
<polygon points="118.5,305.6 112.7,306.0 112.7,307.0 118.6,306.6" fill="#ffff00"/>
<polygon points="118.6,306.6 112.7,307.0 112.8,308.1 118.8,307.6" fill="#ffff00"/>
<polygon points="118.8,307.6 112.8,308.1 112.8,309.2 118.9,308.6" fill="#ffff00"/>
<polygon points="118.9,308.6 112.8,309.2 112.9,310.4 119.1,309.6" fill="#ffff00"/>
<polygon points="119.1,309.6 112.9,310.4 113.1,311.4 119.2,310.4" fill="#ffff00"/>
<polygon points="119.2,310.4 113.1,311.4 113.2,312.4 119.4,311.3" fill="#ffff00"/>
<polygon points="119.4,311.3 113.2,312.4 113.4,313.4 119.5,312.3" fill="#ffff00"/>
<polygon points="119.5,312.3 113.4,313.4 113.6,314.4 119.7,313.3" fill="#ffff00"/>
<polygon points="119.7,313.3 113.6,314.4 113.8,315.5 119.9,314.3" fill="#ffdc00"/>
<polygon points="119.9,314.3 113.8,315.5 113.9,316.5 120.2,315.3" fill="#ffff00"/>
<polygon points="120.2,315.3 113.9,316.5 114.1,317.5 120.4,316.3" fill="#ffff00"/>
<polygon points="120.4,316.3 114.1,317.5 114.3,318.5 120.6,317.4" fill="#ffff00"/>
<polygon points="120.6,317.4 114.3,318.5 114.5,319.5 120.8,318.4" fill="#ffff00"/>
<polygon points="120.8,318.4 114.5,319.5 114.6,320.5 121.0,319.5" fill="#ffff00"/>
<polygon points="121.0,319.5 114.6,320.5 114.8,321.5 121.1,320.6" fill="#ffff00"/>
<polygon points="121.1,320.6 114.8,321.5 114.9,322.5 121.3,321.7" fill="#ffff00"/>
<polygon points="121.3,321.7 114.9,322.5 115.0,323.5 121.5,322.8" fill="#ffff00"/>
<polygon points="121.5,322.8 115.0,323.5 115.1,324.6 121.6,323.9" fill="#ffff00"/>
<polygon points="121.6,323.9 115.1,324.6 115.2,325.7 121.7,324.9" fill="#ffff00"/>
<polygon points="121.7,324.9 115.2,325.7 115.4,326.8 121.9,325.9" fill="#ffff00"/>
<polygon points="121.9,325.9 115.4,326.8 115.5,327.9 122.0,326.9" fill="#ffff00"/>
<polygon points="122.0,326.9 115.5,327.9 115.7,328.9 122.2,327.7" fill="#ffff00"/>
<polygon points="122.2,327.7 115.7,328.9 115.8,329.9 122.3,328.5" fill="#ffff00"/>
<polygon points="122.3,328.5 115.8,329.9 116.1,331.1 122.5,328.9" fill="#ffff00"/>
<polygon points="122.5,328.9 116.1,331.1 116.7,332.7 122.9,329.9" fill="#ffdc00"/>
<polygon points="122.9,329.9 116.7,332.7 117.5,334.2 123.2,330.6" fill="#ffdc00"/>
<polygon points="123.2,330.6 117.5,334.2 118.3,335.2 123.8,331.3" fill="#ffdc00"/>
<polygon points="123.8,331.3 118.3,335.2 118.8,336.0 124.4,332.2" fill="#ffff00"/>
<polygon points="124.4,332.2 118.8,336.0 119.2,336.6 125.2,333.4" fill="#ffff00"/>
<polygon points="125.2,333.4 119.2,336.6 119.6,337.4 125.8,334.7" fill="#ffff00"/>
<polygon points="125.8,334.7 119.6,337.4 119.9,338.3 126.2,335.8" fill="#ffff00"/>
<polygon points="126.2,335.8 119.9,338.3 120.4,339.4 126.6,336.8" fill="#ffff00"/>
<polygon points="126.6,336.8 120.4,339.4 121.0,340.6 126.9,337.5" fill="#ffff00"/>
<polygon points="126.9,337.5 121.0,340.6 121.8,341.9 127.2,338.1" fill="#ffff00"/>
<polygon points="127.2,338.1 121.8,341.9 122.8,343.1 127.6,338.6" fill="#ffff00"/>
<polygon points="127.6,338.6 122.8,343.1 123.8,344.1 128.3,339.2" fill="#ffff00"/>
<polygon points="128.3,339.2 123.8,344.1 124.8,344.9 129.2,340.0" fill="#ffdc00"/>
<polygon points="129.2,340.0 124.8,344.9 125.5,345.5 130.1,340.9" fill="#ffdc00"/>
<polygon points="130.1,340.9 125.5,345.5 125.9,346.0 131.1,342.0" fill="#ffdc00"/>
<polygon points="131.1,342.0 125.9,346.0 126.4,346.7 132.0,343.3" fill="#ff3c00"/>
<polygon points="132.0,343.3 126.4,346.7 126.8,347.4 132.6,344.6" fill="#ff3c00"/>
<polygon points="132.6,344.6 126.8,347.4 127.1,348.2 133.1,345.8" fill="#ff7800"/>
<polygon points="133.1,345.8 127.1,348.2 127.4,349.0 133.6,347.0" fill="#ff7800"/>
<polygon points="133.6,347.0 127.4,349.0 127.6,349.6 133.9,348.2" fill="#ffff00"/>
<polygon points="133.9,348.2 127.6,349.6 127.7,350.3 134.1,349.2" fill="#ffff00"/>
<polygon points="134.1,349.2 127.7,350.3 127.9,351.5 134.2,350.0" fill="#ffff00"/>
<polygon points="134.2,350.0 127.9,351.5 128.3,353.0 134.5,351.0" fill="#ffff00"/>
<polygon points="134.5,351.0 128.3,353.0 128.6,353.8 134.8,351.8" fill="#ffc800"/>
<polygon points="134.8,351.8 128.6,353.8 128.8,354.7 135.1,352.6" fill="#ffc800"/>
<polygon points="135.1,352.6 128.8,354.7 129.1,355.7 135.4,353.5" fill="#ffaf00"/>
<polygon points="135.4,353.5 129.1,355.7 129.5,356.8 135.7,354.5" fill="#ffaf00"/>
<polygon points="135.7,354.5 129.5,356.8 129.9,358.0 136.1,355.4" fill="#ffaf00"/>
<polygon points="136.1,355.4 129.9,358.0 130.5,359.2 136.6,356.3" fill="#ff9600"/>
<polygon points="136.6,356.3 130.5,359.2 131.1,360.5 137.0,357.3" fill="#ffc800"/>
<polygon points="137.0,357.3 131.1,360.5 131.8,361.7 137.6,358.3" fill="#ffc800"/>
<polygon points="137.6,358.3 131.8,361.7 132.4,362.7 138.0,358.9" fill="#ffff00"/>
<polygon points="138.0,358.9 132.4,362.7 133.0,363.6 138.5,359.5" fill="#ffff00"/>
<polygon points="138.5,359.5 133.0,363.6 133.6,364.4 139.1,360.3" fill="#ffff00"/>
<polygon points="139.1,360.3 133.6,364.4 134.2,365.3 139.7,361.0" fill="#ffff00"/>
<polygon points="139.7,361.0 134.2,365.3 134.9,366.2 140.4,361.8" fill="#ffff00"/>
<polygon points="140.4,361.8 134.9,366.2 135.6,367.1 141.0,362.7" fill="#ffff00"/>
<polygon points="141.0,362.7 135.6,367.1 136.3,368.0 141.8,363.5" fill="#ffff00"/>
<polygon points="141.8,363.5 136.3,368.0 137.0,368.8 142.5,364.4" fill="#ffff00"/>
<polygon points="142.5,364.4 137.0,368.8 137.7,369.7 143.2,365.2" fill="#ffff00"/>
<polygon points="143.2,365.2 137.7,369.7 138.3,370.5 143.9,366.1" fill="#ffdc00"/>
<polygon points="143.9,366.1 138.3,370.5 138.9,371.3 144.6,367.0" fill="#ffdc00"/>
<polygon points="144.6,367.0 138.9,371.3 139.5,372.1 145.3,367.9" fill="#ffdc00"/>
<polygon points="145.3,367.9 139.5,372.1 140.0,372.9 146.0,368.8" fill="#ffff00"/>
<polygon points="146.0,368.8 140.0,372.9 140.5,373.7 146.6,369.7" fill="#ffff00"/>
<polygon points="146.6,369.7 140.5,373.7 141.1,374.5 147.2,370.6" fill="#ffff00"/>
<polygon points="147.2,370.6 141.1,374.5 141.6,375.3 147.7,371.5" fill="#ffff00"/>
<polygon points="147.7,371.5 141.6,375.3 142.1,376.2 148.3,372.4" fill="#ffff00"/>
<polygon points="148.3,372.4 142.1,376.2 142.7,377.1 148.8,373.2" fill="#ffff00"/>
<polygon points="148.8,373.2 142.7,377.1 143.2,378.0 149.3,374.1" fill="#ffff00"/>
<polygon points="149.3,374.1 143.2,378.0 143.8,378.8 149.8,374.9" fill="#ffdc00"/>
<polygon points="149.8,374.9 143.8,378.8 144.4,379.7 150.3,375.6" fill="#ffff00"/>
<polygon points="150.3,375.6 144.4,379.7 145.1,380.6 150.8,376.3" fill="#ffff00"/>
<polygon points="150.8,376.3 145.1,380.6 145.8,381.5 151.3,377.0" fill="#ffff00"/>
<polygon points="151.3,377.0 145.8,381.5 146.5,382.4 151.9,377.6" fill="#ffff00"/>
<polygon points="151.9,377.6 146.5,382.4 147.4,383.3 152.5,378.3" fill="#ffe600"/>
<polygon points="152.5,378.3 147.4,383.3 148.3,384.1 153.1,378.9" fill="#ffe600"/>
<polygon points="153.1,378.9 148.3,384.1 149.1,384.9 153.8,379.6" fill="#ffb400"/>
<polygon points="153.8,379.6 149.1,384.9 150.0,385.6 154.5,380.2" fill="#ffb400"/>
<polygon points="154.5,380.2 150.0,385.6 150.9,386.3 155.3,380.8" fill="#ffff00"/>
<polygon points="155.3,380.8 150.9,386.3 151.8,387.0 156.1,381.5" fill="#ffff00"/>
<polygon points="156.1,381.5 151.8,387.0 152.7,387.6 156.9,382.1" fill="#ffff00"/>
<polygon points="156.9,382.1 152.7,387.6 153.5,388.3 157.7,382.8" fill="#ffff00"/>
<polygon points="157.7,382.8 153.5,388.3 154.3,388.9 158.6,383.5" fill="#ffff00"/>
<polygon points="158.6,383.5 154.3,388.9 155.1,389.5 159.4,384.2" fill="#ffff00"/>
<polygon points="159.4,384.2 155.1,389.5 155.9,390.1 160.3,384.9" fill="#ffff00"/>
<polygon points="160.3,384.9 155.9,390.1 156.7,390.7 161.1,385.6" fill="#ffff00"/>
<polygon points="161.1,385.6 156.7,390.7 157.6,391.4 161.9,386.3" fill="#ffff00"/>
<polygon points="161.9,386.3 157.6,391.4 158.4,392.1 162.7,387.1" fill="#ffff00"/>
<polygon points="162.7,387.1 158.4,392.1 159.2,392.7 163.4,387.8" fill="#ffff00"/>
<polygon points="163.4,387.8 159.2,392.7 160.0,393.4 164.2,388.5" fill="#ffff00"/>
<polygon points="164.2,388.5 160.0,393.4 160.9,394.0 165.0,389.2" fill="#ffff00"/>
<polygon points="165.0,389.2 160.9,394.0 161.7,394.7 165.8,389.9" fill="#ffff00"/>
<polygon points="165.8,389.9 161.7,394.7 162.5,395.4 166.5,390.6" fill="#ffff00"/>
<polygon points="166.5,390.6 162.5,395.4 163.4,396.0 167.3,391.3" fill="#ffff00"/>
<polygon points="167.3,391.3 163.4,396.0 164.3,396.7 168.1,392.0" fill="#ffeb00"/>
<polygon points="168.1,392.0 164.3,396.7 165.1,397.3 168.9,392.7" fill="#ffeb00"/>
<polygon points="168.9,392.7 165.1,397.3 166.0,398.0 169.7,393.3" fill="#ffff00"/>
<polygon points="169.7,393.3 166.0,398.0 166.8,398.6 170.4,393.9" fill="#ffff00"/>
<polygon points="170.4,393.9 166.8,398.6 167.6,399.3 171.2,394.5" fill="#ffff00"/>
<polygon points="171.2,394.5 167.6,399.3 168.4,399.9 172.0,395.1" fill="#ffff00"/>
<polygon points="172.0,395.1 168.4,399.9 169.2,400.5 172.8,395.6" fill="#ffff00"/>
<polygon points="172.8,395.6 169.2,400.5 170.0,401.1 173.6,396.2" fill="#ffff00"/>
<polygon points="173.6,396.2 170.0,401.1 170.8,401.7 174.4,396.8" fill="#ffff00"/>
<polygon points="174.4,396.8 170.8,401.7 171.7,402.3 175.3,397.5" fill="#dcff00"/>
<polygon points="175.3,397.5 171.7,402.3 172.6,403.0 176.2,398.1" fill="#dcff00"/>
<polygon points="176.2,398.1 172.6,403.0 173.5,403.7 177.1,398.9" fill="#dcff00"/>
<polygon points="177.1,398.9 173.5,403.7 174.5,404.4 178.1,399.6" fill="#ffff00"/>
<polygon points="178.1,399.6 174.5,404.4 175.3,404.9 178.8,400.2" fill="#c8ff00"/>
<polygon points="178.8,400.2 175.3,404.9 176.1,405.5 179.6,400.8" fill="#c8ff00"/>
<polygon points="179.6,400.8 176.1,405.5 176.9,406.1 180.3,401.4" fill="#96ff00"/>
<polygon points="180.3,401.4 176.9,406.1 177.8,406.7 181.2,402.0" fill="#96ff00"/>
<polygon points="181.2,402.0 177.8,406.7 178.7,407.3 182.0,402.7" fill="#c8ff00"/>
<polygon points="182.0,402.7 178.7,407.3 179.6,407.9 182.9,403.4" fill="#c8ff00"/>
<polygon points="182.9,403.4 179.6,407.9 180.5,408.5 183.8,404.1" fill="#c8ff00"/>
<polygon points="183.8,404.1 180.5,408.5 181.4,409.2 184.7,404.8" fill="#e6ff00"/>
<polygon points="184.7,404.8 181.4,409.2 182.3,409.8 185.6,405.5" fill="#96ff00"/>
<polygon points="185.6,405.5 182.3,409.8 183.2,410.4 186.4,406.2" fill="#96ff00"/>
<polygon points="186.4,406.2 183.2,410.4 184.1,411.1 187.3,406.8" fill="#c8ff00"/>
<polygon points="187.3,406.8 184.1,411.1 184.9,411.7 188.2,407.5" fill="#e6ff00"/>
<polygon points="188.2,407.5 184.9,411.7 185.7,412.3 189.0,408.2" fill="#e6ff00"/>
<polygon points="189.0,408.2 185.7,412.3 186.5,412.8 189.7,408.9" fill="#c8ff00"/>
<polygon points="189.7,408.9 186.5,412.8 187.2,413.4 190.5,409.5" fill="#c8ff00"/>
<polygon points="190.5,409.5 187.2,413.4 187.9,413.9 191.1,410.1" fill="#c8ff00"/>
<polygon points="191.1,410.1 187.9,413.9 188.8,414.7 192.2,411.0" fill="#96ff00"/>
<polygon points="192.2,411.0 188.8,414.7 189.6,415.5 193.1,411.9" fill="#96ff00"/>
<polygon points="193.1,411.9 189.6,415.5 190.4,416.3 194.0,412.8" fill="#96ff00"/>
<polygon points="194.0,412.8 190.4,416.3 191.1,417.0 194.8,413.7" fill="#96ff00"/>
<polygon points="194.8,413.7 191.1,417.0 191.7,417.8 195.5,414.5" fill="#6eff00"/>
<polygon points="195.5,414.5 191.7,417.8 192.4,418.5 196.2,415.2" fill="#6eff00"/>
<polygon points="196.2,415.2 192.4,418.5 193.0,419.2 196.8,416.0" fill="#c8ff00"/>
<polygon points="196.8,416.0 193.0,419.2 193.5,419.9 197.4,416.7" fill="#c8ff00"/>
<polygon points="197.4,416.7 193.5,419.9 194.1,420.5 197.9,417.3" fill="#96ff00"/>
<polygon points="197.9,417.3 194.1,420.5 194.6,421.1 198.4,417.9" fill="#96ff00"/>
<polygon points="198.4,417.9 194.6,421.1 195.3,422.0 199.4,419.2" fill="#ffff00"/>
<polygon points="199.4,419.2 195.3,422.0 195.8,422.8 200.1,420.3" fill="#ffff00"/>
<polygon points="200.1,420.3 195.8,422.8 196.4,423.8 200.5,420.9" fill="#ffff00"/>
<polygon points="200.5,420.9 196.4,423.8 197.3,424.9 200.6,421.1" fill="#b4ff00"/>
<polygon points="200.6,421.1 197.3,424.9 198.8,425.8 200.6,421.2" fill="#b4ff00"/>
<polygon points="200.6,421.2 198.8,425.8 200.6,426.2 200.9,421.2" fill="#ffff00"/>
<polygon points="200.9,421.2 200.6,426.2 202.1,426.1 201.6,421.1" fill="#ffff00"/>
<polygon points="201.6,421.1 202.1,426.1 203.5,425.9 202.8,421.0" fill="#ffeb00"/>
<polygon points="202.8,421.0 203.5,425.9 204.5,425.8 204.2,420.8" fill="#ffeb00"/>
<polygon points="204.2,420.8 204.5,425.8 205.3,425.8 205.7,420.8" fill="#ffeb00"/>
<polygon points="205.7,420.8 205.3,425.8 206.5,425.8 207.1,421.1" fill="#14ff00"/>
<polygon points="207.1,421.1 206.5,425.8 207.4,425.7 208.6,421.5" fill="#14ff00"/>
<polygon points="208.6,421.5 207.4,425.7 208.0,425.8 210.2,422.3" fill="#14ff00"/>
<polygon points="210.2,422.3 208.0,425.8 208.8,426.3 211.6,423.7" fill="#14ff00"/>
<polygon points="211.6,423.7 208.8,426.3 209.0,426.6 212.3,424.8" fill="#7d19eb"/>
<polygon points="212.3,424.8 209.0,426.6 209.4,427.3 212.7,425.9" fill="#7d19eb"/>
<polygon points="212.7,425.9 209.4,427.3 209.9,428.3 213.2,427.0" fill="#7d19eb"/>
<polygon points="213.2,427.0 209.9,428.3 210.3,429.4 213.6,428.2" fill="#7d19eb"/>
<polygon points="213.6,428.2 210.3,429.4 210.7,430.5 213.9,429.4" fill="#7d19eb"/>
<polygon points="213.9,429.4 210.7,430.5 211.1,431.5 214.3,430.5" fill="#7d19eb"/>
<polygon points="214.3,430.5 211.1,431.5 211.5,432.5 214.5,431.6" fill="#7d19eb"/>
<polygon points="214.5,431.6 211.5,432.5 211.8,433.4 214.8,432.4" fill="#7d19eb"/>
<polygon points="214.8,432.4 211.8,433.4 212.1,434.0 214.9,433.0" fill="#7d19eb"/>
</g>
<path d="M53.87,198.20 A161.87,161.87 0 0 0 212.16,443.56" fill="none" stroke="#e6e6e6" stroke-width="1.2"/>
<polygon points="110.6,116.4 159.3,98.0 171.5,127.4 122.9,147.0" fill="none" stroke="#fff" stroke-width="1.6" stroke-dasharray="1.4 1.25"/>
<polygon points="88.0,131.4 112.5,151.6 78.6,191.3 53.5,170.3" fill="none" stroke="#fff" stroke-width="1.6" stroke-dasharray="1.4 1.25"/>
<polygon points="96.7,248.8 129.5,249.0 128.3,301.2 96.6,301.0" fill="none" stroke="#fff" stroke-width="1.6" stroke-dasharray="1.4 1.25"/>
<polygon points="97.7,314.0 128.3,303.4 145.1,352.8 114.6,363.2" fill="none" stroke="#fff" stroke-width="1.6" stroke-dasharray="1.4 1.25"/>
<line x1="39.2" y1="268.7" x2="97.4" y2="274.4" stroke="#f0f0f0" stroke-width="1.6" stroke-dasharray="3.2 2.2"/><polygon points="32.2,268.0 41.6,264.6 38.5,268.6 40.7,273.2" fill="#f4f4f4"/><polygon points="104.4,275.1 95.0,278.5 98.1,274.5 95.9,269.9" fill="#f4f4f4"/>
<line x1="57.6" y1="357.5" x2="108.7" y2="335.8" stroke="#f0f0f0" stroke-width="1.6" stroke-dasharray="3.2 2.2"/><polygon points="51.2,360.3 57.8,352.8 57.0,357.8 61.2,360.7" fill="#f4f4f4"/><polygon points="115.1,333.0 108.5,340.5 109.3,335.5 105.1,332.6" fill="#f4f4f4"/>
<text transform="translate(42.95,315.30) scale(0.9719,1)" font-size="14.78" fill="#e8e8e8">RPE</text>
<text stroke="#fff" stroke-width="0.7" transform="translate(253.50,476.00) scale(0.9758,1)" font-size="24.35" fill="#fff">A</text>
<rect x="229" y="494" width="53" height="4" fill="#000"/>
<text transform="translate(437.68,33.10) scale(0.9771,1)" font-size="16.14" font-weight="bold" fill="#000">Distance</text>
<text transform="translate(424.74,53.80) scale(1.0111,1)" font-size="16.09" font-weight="bold" fill="#000">RPE</text>
<text transform="translate(482.67,53.80) scale(0.9748,1)" font-size="16.14" font-weight="bold" fill="#000">ONL</text>
<path d="M463,48.2 H474.5" stroke="#000" stroke-width="1.5"/><path d="M476.6,48.2 L471.5,45.2 L471.5,51.2 Z" fill="#000"/>
<rect x="419.70" y="88.1" width="2.7" height="136.4" fill="#000"/>
<rect x="415.4" y="88.1" width="6" height="2.6" fill="#000"/>
<rect x="415.4" y="121.8" width="6" height="2.6" fill="#000"/>
<rect x="415.4" y="155.5" width="6" height="2.6" fill="#000"/>
<rect x="415.4" y="189.3" width="6" height="2.6" fill="#000"/>
<rect x="415.4" y="223.2" width="106.6" height="2.7" fill="#000"/>
<text transform="translate(361.77,93.30) scale(1.0042,1)" font-size="15.00" fill="#000">1,300</text>
<text transform="translate(374.42,127.00) scale(1.0042,1)" font-size="15.00" fill="#000">975</text>
<text transform="translate(374.35,160.70) scale(1.0042,1)" font-size="15.00" fill="#000">650</text>
<text transform="translate(374.42,194.50) scale(1.0042,1)" font-size="15.00" fill="#000">325</text>
<text transform="translate(391.07,228.40) scale(1.0042,1)" font-size="15.00" fill="#000">0</text>
<rect x="438.9" y="107.2" width="31.1" height="117.3" fill="#000"/><rect x="441.6" y="110.0" width="25.6" height="110.5" fill="#2b6a8b"/>
<rect x="471.9" y="101.4" width="30.9" height="123.1" fill="#000"/><rect x="474.6" y="104.2" width="25.4" height="116.2" fill="#b0d236"/>
<rect x="447.2" y="105.6" width="12.7" height="2.1" fill="#000"/><rect x="447.2" y="104.3" width="12.7" height="2.5" fill="#000"/>
<rect x="481.8" y="100.9" width="12.7" height="1.0" fill="#000"/><rect x="481.8" y="99.7" width="12.7" height="2.5" fill="#000"/>
<text transform="translate(477.02,91.20) scale(1.1002,1)" font-size="14.57" fill="#000">NS</text>
<text transform="translate(451.32,245.70) scale(1.0051,1)" font-size="14.71" fill="#000">Day 0</text>
<text transform="translate(333.29,33.90) scale(1.0047,1)" font-size="24.64" font-weight="bold" fill="#000">B</text>
<text transform="translate(348.30,205.77) rotate(-90) scale(1.0588,1)" font-size="15.03" fill="#000">Distance (µm)</text>
<rect x="521.0" y="89.5" width="12.2" height="12.8" fill="#000"/><rect x="523.8" y="92.3" width="6.6" height="7.2" fill="#2b6a8b"/>
<text transform="translate(541.80,100.90) scale(1.0052,1)" font-size="13.66" fill="#000">Detached Apex</text>
<rect x="521.0" y="105.2" width="12.2" height="12.8" fill="#000"/><rect x="523.8" y="108.0" width="6.6" height="7.2" fill="#b0d236"/>
<text transform="translate(541.81,116.80) scale(0.9975,1)" font-size="13.66" fill="#000">Detached Base</text>
<rect x="419.70" y="290.0" width="2.7" height="136.4" fill="#000"/>
<rect x="415.4" y="290.0" width="6" height="2.6" fill="#000"/>
<rect x="415.4" y="323.7" width="6" height="2.6" fill="#000"/>
<rect x="415.4" y="357.4" width="6" height="2.6" fill="#000"/>
<rect x="415.4" y="391.2" width="6" height="2.6" fill="#000"/>
<rect x="415.4" y="425.0" width="106.6" height="2.7" fill="#000"/>
<text transform="translate(361.77,295.20) scale(1.0042,1)" font-size="15.00" fill="#000">1,300</text>
<text transform="translate(374.42,328.90) scale(1.0042,1)" font-size="15.00" fill="#000">975</text>
<text transform="translate(374.35,362.60) scale(1.0042,1)" font-size="15.00" fill="#000">650</text>
<text transform="translate(374.42,396.40) scale(1.0042,1)" font-size="15.00" fill="#000">325</text>
<text transform="translate(391.07,430.30) scale(1.0042,1)" font-size="15.00" fill="#000">0</text>
<rect x="438.9" y="309.8" width="31.1" height="116.6" fill="#000"/><rect x="441.6" y="312.6" width="25.6" height="109.7" fill="#2b6a8b"/>
<rect x="471.9" y="311.2" width="30.9" height="115.2" fill="#000"/><rect x="474.6" y="313.9" width="25.4" height="108.3" fill="#b0d236"/>
<rect x="452.4" y="300.2" width="2.5" height="10.1" fill="#000"/><rect x="447.2" y="298.9" width="12.7" height="2.5" fill="#000"/>
<rect x="486.9" y="306.8" width="2.5" height="4.9" fill="#000"/><rect x="481.8" y="305.6" width="12.7" height="2.5" fill="#000"/>
<text transform="translate(477.02,293.10) scale(1.1002,1)" font-size="14.57" fill="#000">NS</text>
<text transform="translate(447.02,448.70) scale(1.0455,1)" font-size="14.06" fill="#000">Day 14</text>
<text transform="translate(336.29,268.90) scale(0.9856,1)" font-size="25.71" font-weight="bold" fill="#000">C</text>
<text transform="translate(348.30,408.67) rotate(-90) scale(1.0588,1)" font-size="15.03" fill="#000">Distance (µm)</text>
<rect x="520.0" y="290.8" width="12.2" height="12.8" fill="#000"/><rect x="522.8" y="293.6" width="6.6" height="7.2" fill="#2b6a8b"/>
<text transform="translate(540.71,302.00) scale(1.0111,1)" font-size="13.52" fill="#000">Detached Apex</text>
<rect x="520.0" y="306.2" width="12.2" height="12.8" fill="#000"/><rect x="522.8" y="309.0" width="6.6" height="7.2" fill="#b0d236"/>
<text transform="translate(540.72,317.70) scale(0.9932,1)" font-size="13.66" fill="#000">Detached Base</text>
<rect x="86.2" y="572.6" width="2.8" height="136.8" fill="#000"/>
<rect x="82.1" y="572.5" width="5.5" height="2.7" fill="#000"/>
<rect x="82.1" y="606.4" width="5.5" height="2.7" fill="#000"/>
<rect x="82.1" y="640.2" width="5.5" height="2.7" fill="#000"/>
<rect x="82.1" y="674.1" width="5.5" height="2.7" fill="#000"/>
<rect x="82" y="707.9" width="444.2" height="3" fill="#000"/>
<text transform="translate(28.18,578.20) scale(0.9864,1)" font-size="15.14" fill="#000">1,500</text>
<text transform="translate(28.25,612.10) scale(0.9864,1)" font-size="15.14" fill="#000">1,125</text>
<text transform="translate(40.65,645.90) scale(0.9864,1)" font-size="15.14" fill="#000">750</text>
<text transform="translate(40.73,679.80) scale(0.9864,1)" font-size="15.14" fill="#000">375</text>
<text transform="translate(57.23,713.70) scale(0.9864,1)" font-size="15.14" fill="#000">0</text>
<rect x="95.0" y="597.0" width="21.7" height="112.4" fill="#000"/><rect x="97.8" y="599.8" width="16.2" height="105.5" fill="#3b4f8c"/>
<rect x="100.1" y="594.9" width="12.7" height="2.6" fill="#000"/><rect x="100.1" y="593.6" width="12.7" height="2.5" fill="#000"/>
<rect x="118.7" y="605.4" width="21.7" height="104.0" fill="#000"/><rect x="121.5" y="608.1" width="16.2" height="97.2" fill="#24898a"/>
<rect x="128.8" y="598.9" width="2.5" height="7.0" fill="#000"/><rect x="123.7" y="597.6" width="12.7" height="2.5" fill="#000"/>
<rect x="142.4" y="596.1" width="21.7" height="113.3" fill="#000"/><rect x="145.1" y="598.9" width="16.2" height="106.4" fill="#7bc458"/>
<rect x="152.5" y="590.2" width="2.5" height="6.4" fill="#000"/><rect x="147.4" y="589.0" width="12.7" height="2.5" fill="#000"/>
<rect x="166.1" y="617.1" width="21.7" height="92.3" fill="#000"/><rect x="168.8" y="619.9" width="16.2" height="85.4" fill="#e2e21f"/>
<rect x="171.1" y="615.6" width="12.7" height="2.0" fill="#000"/><rect x="171.1" y="614.4" width="12.7" height="2.5" fill="#000"/>
<rect x="204.4" y="596.9" width="21.7" height="112.5" fill="#000"/><rect x="207.2" y="599.6" width="16.2" height="105.7" fill="#3b4f8c"/>
<rect x="209.4" y="595.0" width="12.7" height="2.4" fill="#000"/><rect x="209.4" y="593.8" width="12.7" height="2.5" fill="#000"/>
<rect x="228.1" y="606.7" width="21.7" height="102.7" fill="#000"/><rect x="230.9" y="609.5" width="16.2" height="95.8" fill="#24898a"/>
<rect x="238.2" y="603.2" width="2.5" height="4.0" fill="#000"/><rect x="233.1" y="602.0" width="12.7" height="2.5" fill="#000"/>
<rect x="251.8" y="620.3" width="21.7" height="89.1" fill="#000"/><rect x="254.5" y="623.0" width="16.2" height="82.3" fill="#7bc458"/>
<rect x="261.9" y="616.1" width="2.5" height="4.7" fill="#000"/><rect x="256.8" y="614.9" width="12.7" height="2.5" fill="#000"/>
<rect x="275.5" y="617.2" width="21.7" height="92.2" fill="#000"/><rect x="278.2" y="620.0" width="16.2" height="85.3" fill="#e2e21f"/>
<rect x="285.6" y="611.4" width="2.5" height="6.3" fill="#000"/><rect x="280.5" y="610.1" width="12.7" height="2.5" fill="#000"/>
<rect x="313.9" y="593.7" width="21.7" height="115.7" fill="#000"/><rect x="316.6" y="596.5" width="16.2" height="108.8" fill="#3b4f8c"/>
<rect x="318.9" y="593.0" width="12.7" height="1.2" fill="#000"/><rect x="318.9" y="591.8" width="12.7" height="2.5" fill="#000"/>
<rect x="337.5" y="606.6" width="21.7" height="102.8" fill="#000"/><rect x="340.3" y="609.4" width="16.2" height="95.9" fill="#24898a"/>
<rect x="342.5" y="605.0" width="12.7" height="2.1" fill="#000"/><rect x="342.5" y="603.8" width="12.7" height="2.5" fill="#000"/>
<rect x="361.2" y="638.7" width="21.7" height="70.7" fill="#000"/><rect x="363.9" y="641.5" width="16.2" height="63.8" fill="#7bc458"/>
<rect x="371.3" y="636.1" width="2.5" height="3.1" fill="#000"/><rect x="366.2" y="634.9" width="12.7" height="2.5" fill="#000"/>
<rect x="384.9" y="618.4" width="21.7" height="91.0" fill="#000"/><rect x="387.6" y="621.1" width="16.2" height="84.2" fill="#e2e21f"/>
<rect x="389.9" y="618.0" width="12.7" height="0.9" fill="#000"/><rect x="389.9" y="616.8" width="12.7" height="2.5" fill="#000"/>
<rect x="423.3" y="601.1" width="21.7" height="108.3" fill="#000"/><rect x="426.0" y="603.9" width="16.2" height="101.4" fill="#3b4f8c"/>
<rect x="433.4" y="597.9" width="2.5" height="3.7" fill="#000"/><rect x="428.2" y="596.6" width="12.7" height="2.5" fill="#000"/>
<rect x="446.9" y="608.2" width="21.7" height="101.2" fill="#000"/><rect x="449.7" y="611.0" width="16.2" height="94.3" fill="#24898a"/>
<rect x="457.0" y="599.2" width="2.5" height="9.5" fill="#000"/><rect x="451.9" y="598.0" width="12.7" height="2.5" fill="#000"/>
<rect x="470.6" y="645.1" width="21.7" height="64.3" fill="#000"/><rect x="473.3" y="647.9" width="16.2" height="57.4" fill="#7bc458"/>
<rect x="480.7" y="640.9" width="2.5" height="4.7" fill="#000"/><rect x="475.6" y="639.6" width="12.7" height="2.5" fill="#000"/>
<rect x="494.3" y="623.3" width="21.7" height="86.1" fill="#000"/><rect x="497.0" y="626.0" width="16.2" height="79.3" fill="#e2e21f"/>
<rect x="504.4" y="619.4" width="2.5" height="4.4" fill="#000"/><rect x="499.3" y="618.1" width="12.7" height="2.5" fill="#000"/>
<path d="M262.00,596.00 L262.00,593.25 M262.00,596.00 L264.62,595.15 M262.00,596.00 L263.62,598.22 M262.00,596.00 L260.38,598.22 M262.00,596.00 L259.38,595.15 " stroke="#000" stroke-width="1.35" stroke-linecap="round" fill="none"/>
<path d="M372.60,617.00 L372.60,614.25 M372.60,617.00 L375.22,616.15 M372.60,617.00 L374.22,619.22 M372.60,617.00 L370.98,619.22 M372.60,617.00 L369.98,616.15 " stroke="#000" stroke-width="1.35" stroke-linecap="round" fill="none"/>
<path d="M480.50,623.40 L480.50,620.65 M480.50,623.40 L483.12,622.55 M480.50,623.40 L482.12,625.62 M480.50,623.40 L478.88,625.62 M480.50,623.40 L477.88,622.55 " stroke="#000" stroke-width="1.35" stroke-linecap="round" fill="none"/>
<text transform="translate(122.54,729.20) scale(1.0470,1)" font-size="13.86" fill="#000">Day 0</text>
<text transform="translate(231.86,729.20) scale(1.0133,1)" font-size="14.06" fill="#000">Day 1</text>
<text transform="translate(340.51,729.20) scale(1.0613,1)" font-size="14.06" fill="#000">Day 7</text>
<text transform="translate(445.80,729.20) scale(1.0641,1)" font-size="14.06" fill="#000">Day 14</text>
<text transform="translate(247.57,555.40) scale(0.9291,1)" font-size="16.97" font-weight="bold" fill="#000">ONL Cell Count</text>
<text transform="translate(12.19,557.70) scale(0.9801,1)" font-size="25.22" font-weight="bold" fill="#000">D</text>
<text transform="translate(15.00,680.21) rotate(-90) scale(1.0438,1)" font-size="15.59" fill="#000">Cell Count</text>
<rect x="530.2" y="573.0" width="13.5" height="13.3" fill="#000"/><rect x="533" y="575.8" width="7.9" height="7.7" fill="#3b4f8c"/>
<text transform="translate(552.70,584.30) scale(0.9206,1)" font-size="14.49" fill="#000">Attached (Central)</text>
<rect x="530.2" y="588.6" width="13.5" height="13.3" fill="#000"/><rect x="533" y="591.4" width="7.9" height="7.7" fill="#24898a"/>
<text transform="translate(552.70,599.95) scale(0.9206,1)" font-size="14.49" fill="#000">Attached (Paracentral)</text>
<rect x="530.2" y="604.3" width="13.5" height="13.3" fill="#000"/><rect x="533" y="607.1" width="7.9" height="7.7" fill="#7bc458"/>
<text transform="translate(551.63,615.60) scale(0.9206,1)" font-size="14.49" fill="#000">Detached (Apex)</text>
<rect x="530.2" y="620.0" width="13.5" height="13.3" fill="#000"/><rect x="533" y="622.8" width="7.9" height="7.7" fill="#e2e21f"/>
<text transform="translate(551.63,631.25) scale(0.9206,1)" font-size="14.49" fill="#000">Detached (Base)</text>
<rect x="86.2" y="801.8" width="2.8" height="136.8" fill="#000"/>
<rect x="82.1" y="801.7" width="5.5" height="2.7" fill="#000"/>
<rect x="82.1" y="835.6" width="5.5" height="2.7" fill="#000"/>
<rect x="82.1" y="869.4" width="5.5" height="2.7" fill="#000"/>
<rect x="82.1" y="903.4" width="5.5" height="2.7" fill="#000"/>
<rect x="82" y="937.1" width="444.2" height="3" fill="#000"/>
<text transform="translate(43.93,807.30) scale(1.0379,1)" font-size="14.86" fill="#000">2.4</text>
<text transform="translate(44.08,841.20) scale(1.0379,1)" font-size="14.86" fill="#000">1.8</text>
<text transform="translate(44.24,875.00) scale(1.0379,1)" font-size="14.86" fill="#000">1.2</text>
<text transform="translate(44.08,908.90) scale(1.0379,1)" font-size="14.86" fill="#000">0.6</text>
<text transform="translate(56.88,942.80) scale(1.0379,1)" font-size="14.86" fill="#000">0</text>
<rect x="95.0" y="826.3" width="21.7" height="112.3" fill="#000"/><rect x="97.8" y="829.0" width="16.2" height="105.4" fill="#3b4f8c"/>
<rect x="105.2" y="822.9" width="2.5" height="3.9" fill="#000"/><rect x="100.1" y="821.7" width="12.7" height="2.5" fill="#000"/>
<rect x="118.7" y="830.5" width="21.7" height="108.1" fill="#000"/><rect x="121.5" y="833.2" width="16.2" height="101.2" fill="#24898a"/>
<rect x="128.8" y="825.7" width="2.5" height="5.3" fill="#000"/><rect x="123.7" y="824.5" width="12.7" height="2.5" fill="#000"/>
<rect x="142.4" y="826.3" width="21.7" height="112.3" fill="#000"/><rect x="145.1" y="829.0" width="16.2" height="105.4" fill="#7bc458"/>
<rect x="147.4" y="824.6" width="12.7" height="2.2" fill="#000"/><rect x="147.4" y="823.4" width="12.7" height="2.5" fill="#000"/>
<rect x="166.1" y="835.0" width="21.7" height="103.6" fill="#000"/><rect x="168.8" y="837.8" width="16.2" height="96.7" fill="#e2e21f"/>
<rect x="176.2" y="831.4" width="2.5" height="4.1" fill="#000"/><rect x="171.1" y="830.2" width="12.7" height="2.5" fill="#000"/>
<rect x="204.4" y="822.6" width="21.7" height="116.0" fill="#000"/><rect x="207.2" y="825.4" width="16.2" height="109.1" fill="#3b4f8c"/>
<rect x="214.5" y="817.9" width="2.5" height="5.2" fill="#000"/><rect x="209.4" y="816.7" width="12.7" height="2.5" fill="#000"/>
<rect x="228.1" y="825.3" width="21.7" height="113.3" fill="#000"/><rect x="230.9" y="828.0" width="16.2" height="106.4" fill="#24898a"/>
<rect x="238.2" y="819.6" width="2.5" height="6.2" fill="#000"/><rect x="233.1" y="818.4" width="12.7" height="2.5" fill="#000"/>
<rect x="251.8" y="862.3" width="21.7" height="76.3" fill="#000"/><rect x="254.5" y="865.0" width="16.2" height="69.4" fill="#7bc458"/>
<rect x="261.9" y="854.5" width="2.5" height="8.3" fill="#000"/><rect x="256.8" y="853.2" width="12.7" height="2.5" fill="#000"/>
<rect x="275.5" y="837.8" width="21.7" height="100.8" fill="#000"/><rect x="278.2" y="840.5" width="16.2" height="93.9" fill="#e2e21f"/>
<rect x="285.6" y="833.0" width="2.5" height="5.3" fill="#000"/><rect x="280.5" y="831.8" width="12.7" height="2.5" fill="#000"/>
<rect x="313.9" y="820.3" width="21.7" height="118.3" fill="#000"/><rect x="316.6" y="823.0" width="16.2" height="111.4" fill="#3b4f8c"/>
<rect x="324.0" y="811.9" width="2.5" height="8.9" fill="#000"/><rect x="318.9" y="810.7" width="12.7" height="2.5" fill="#000"/>
<rect x="337.5" y="822.0" width="21.7" height="116.6" fill="#000"/><rect x="340.3" y="824.8" width="16.2" height="109.7" fill="#24898a"/>
<rect x="347.6" y="812.9" width="2.5" height="9.6" fill="#000"/><rect x="342.5" y="811.7" width="12.7" height="2.5" fill="#000"/>
<rect x="361.2" y="879.7" width="21.7" height="58.9" fill="#000"/><rect x="363.9" y="882.5" width="16.2" height="52.0" fill="#7bc458"/>
<rect x="371.3" y="876.7" width="2.5" height="3.5" fill="#000"/><rect x="366.2" y="875.5" width="12.7" height="2.5" fill="#000"/>
<rect x="384.9" y="846.2" width="21.7" height="92.4" fill="#000"/><rect x="387.6" y="849.0" width="16.2" height="85.5" fill="#e2e21f"/>
<rect x="395.0" y="842.8" width="2.5" height="3.9" fill="#000"/><rect x="389.9" y="841.5" width="12.7" height="2.5" fill="#000"/>
<rect x="423.3" y="819.7" width="21.7" height="118.9" fill="#000"/><rect x="426.0" y="822.5" width="16.2" height="112.0" fill="#3b4f8c"/>
<rect x="428.2" y="817.8" width="12.7" height="2.4" fill="#000"/><rect x="428.2" y="816.5" width="12.7" height="2.5" fill="#000"/>
<rect x="446.9" y="816.2" width="21.7" height="122.4" fill="#000"/><rect x="449.7" y="819.0" width="16.2" height="115.5" fill="#24898a"/>
<rect x="457.0" y="812.2" width="2.5" height="4.5" fill="#000"/><rect x="451.9" y="811.0" width="12.7" height="2.5" fill="#000"/>
<rect x="470.6" y="878.1" width="21.7" height="60.5" fill="#000"/><rect x="473.3" y="880.9" width="16.2" height="53.6" fill="#7bc458"/>
<rect x="480.7" y="873.4" width="2.5" height="5.2" fill="#000"/><rect x="475.6" y="872.2" width="12.7" height="2.5" fill="#000"/>
<rect x="494.3" y="836.1" width="21.7" height="102.5" fill="#000"/><rect x="497.0" y="838.9" width="16.2" height="95.6" fill="#e2e21f"/>
<rect x="504.4" y="831.4" width="2.5" height="5.2" fill="#000"/><rect x="499.3" y="830.2" width="12.7" height="2.5" fill="#000"/>
<path d="M261.50,837.00 L261.50,834.25 M261.50,837.00 L264.12,836.15 M261.50,837.00 L263.12,839.22 M261.50,837.00 L259.88,839.22 M261.50,837.00 L258.88,836.15 " stroke="#000" stroke-width="1.35" stroke-linecap="round" fill="none"/>
<path d="M372.00,858.00 L372.00,855.25 M372.00,858.00 L374.62,857.15 M372.00,858.00 L373.62,860.22 M372.00,858.00 L370.38,860.22 M372.00,858.00 L369.38,857.15 " stroke="#000" stroke-width="1.35" stroke-linecap="round" fill="none"/>
<path d="M481.80,855.40 L481.80,852.65 M481.80,855.40 L484.42,854.55 M481.80,855.40 L483.42,857.62 M481.80,855.40 L480.18,857.62 M481.80,855.40 L479.18,854.55 " stroke="#000" stroke-width="1.35" stroke-linecap="round" fill="none"/>
<text transform="translate(121.40,957.70) scale(1.0707,1)" font-size="14.00" fill="#000">Day 0</text>
<text transform="translate(231.43,957.70) scale(1.0285,1)" font-size="14.20" fill="#000">Day 1</text>
<text transform="translate(340.58,957.70) scale(1.0760,1)" font-size="14.20" fill="#000">Day 7</text>
<text transform="translate(446.21,957.70) scale(1.0440,1)" font-size="14.20" fill="#000">Day 14</text>
<text transform="translate(210.86,784.50) scale(0.9453,1)" font-size="16.83" font-weight="bold" fill="#000">ONL/INL Thickness Ratio</text>
<text transform="translate(13.63,783.70) scale(0.9305,1)" font-size="24.35" font-weight="bold" fill="#000">E</text>
<text transform="translate(31.10,924.24) rotate(-90) scale(1.1364,1)" font-size="14.48" fill="#000">ONL/INL Ratio</text>
</svg></body></html>
